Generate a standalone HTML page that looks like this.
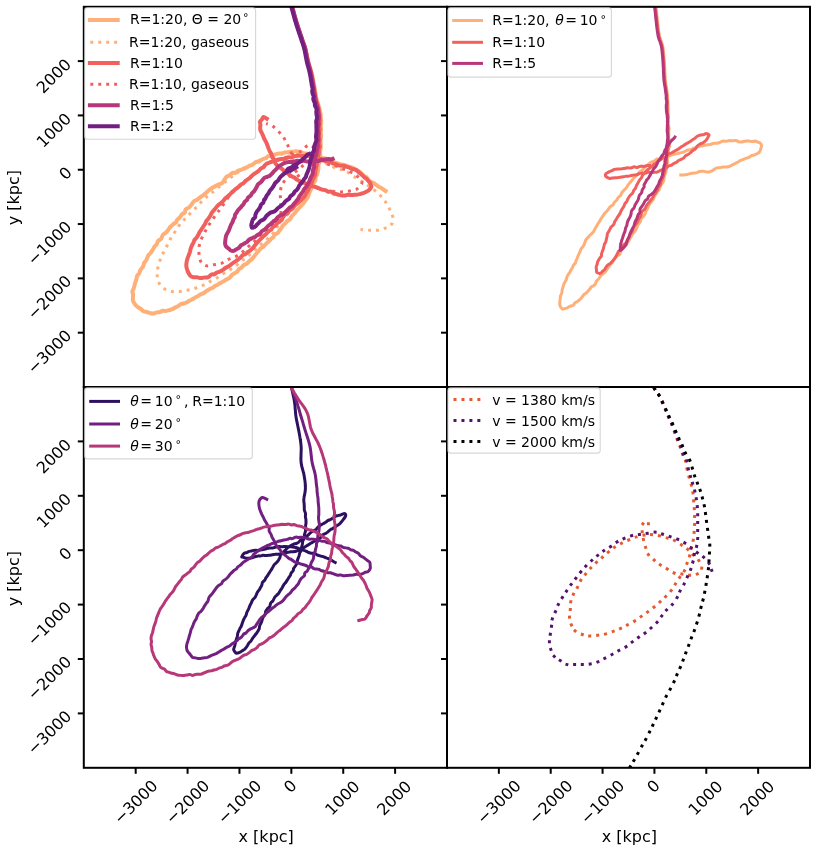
<!DOCTYPE html>
<html><head><meta charset="utf-8"><title>orbits</title>
<style>
html,body{margin:0;padding:0;background:#fff;}
svg{display:block;}
text{font-family:"DejaVu Sans","Liberation Sans",sans-serif;font-size:14px;fill:#000;}
.t{font-size:16px;}
.sp{fill:none;stroke:#000;stroke-width:2;stroke-linecap:square;}
.tk{stroke:#000;stroke-width:2;fill:none;}
.c{fill:none;stroke-linejoin:round;}
.lg{fill:#fff;fill-opacity:0.8;stroke:#ccc;stroke-opacity:0.8;stroke-width:1.1;}
</style></head><body>
<svg width="817" height="852" viewBox="0 0 817 852">
<rect width="817" height="852" fill="#fff"/>
<defs><clipPath id="cp0"><rect x="83.8" y="6.8" width="363.2" height="380.2"/></clipPath><clipPath id="cp1"><rect x="447.0" y="6.8" width="363.0" height="380.2"/></clipPath><clipPath id="cp2"><rect x="83.8" y="387.0" width="363.2" height="380.79999999999995"/></clipPath><clipPath id="cp3"><rect x="447.0" y="387.0" width="363.0" height="380.79999999999995"/></clipPath></defs>
<path class="c" clip-path="url(#cp0)" d="M290.4,0.0 C290.5,0.3 290.7,1.2 290.9,2.0 C291.1,2.8 291.4,3.9 291.6,4.9 C291.9,5.9 292.2,7.1 292.4,8.0 C292.7,8.9 292.9,9.6 293.1,10.4 C293.3,11.3 293.6,12.2 293.8,13.1 C294.0,14.0 294.3,14.9 294.5,15.8 C294.8,16.7 295.0,17.4 295.3,18.4 C295.6,19.4 295.9,20.6 296.3,21.7 C296.6,22.7 296.9,23.8 297.3,24.9 C297.6,26.0 298.0,27.2 298.3,28.2 C298.7,29.2 298.9,30.0 299.2,30.9 C299.5,31.8 299.9,32.8 300.2,33.7 C300.5,34.6 300.9,35.6 301.2,36.5 C301.5,37.4 301.7,38.2 302.1,39.2 C302.4,40.2 302.9,41.4 303.3,42.5 C303.7,43.5 304.0,44.5 304.4,45.6 C304.8,46.7 305.2,48.0 305.5,49.0 C305.8,50.0 306.0,50.9 306.2,51.9 C306.4,52.9 306.6,53.9 306.9,55.0 C307.1,56.0 307.3,57.1 307.5,58.1 C307.8,59.1 308.0,60.2 308.2,61.2 C308.5,62.2 308.8,63.2 309.1,64.2 C309.4,65.3 309.7,66.3 310.0,67.3 C310.3,68.3 310.6,69.3 310.9,70.3 C311.2,71.4 311.5,72.4 311.7,73.4 C312.0,74.4 312.2,75.4 312.4,76.4 C312.6,77.5 312.8,78.5 313.0,79.5 C313.2,80.5 313.4,81.5 313.6,82.5 C313.8,83.6 314.0,84.7 314.2,85.7 C314.4,86.7 314.5,87.5 314.7,88.4 C314.8,89.3 315.0,90.2 315.1,91.2 C315.3,92.1 315.5,93.1 315.6,94.0 C315.8,94.9 315.9,95.8 316.1,96.7 C316.3,97.5 316.3,98.1 316.6,99.1 C316.8,100.1 317.3,101.5 317.6,102.5 C317.9,103.5 318.1,104.3 318.4,105.3 C318.7,106.2 319.2,107.3 319.4,108.3 C319.7,109.4 319.7,110.5 319.9,111.6 C320.1,112.6 320.5,113.6 320.6,114.6 C320.8,115.7 320.7,117.0 320.8,118.1 C321.0,119.1 321.2,119.9 321.2,120.8 C321.3,121.7 321.2,122.5 321.1,123.5 C321.0,124.5 320.7,125.6 320.7,126.7 C320.7,127.8 321.3,129.2 321.2,130.1 C321.2,131.1 320.4,131.5 320.4,132.3 C320.4,133.0 321.1,133.6 321.2,134.7 C321.2,135.7 320.9,137.3 320.8,138.4 C320.7,139.6 320.4,140.7 320.4,141.6 C320.4,142.6 320.8,143.2 320.8,144.1 C320.9,145.0 320.7,146.2 320.6,147.2 C320.6,148.2 320.5,149.0 320.4,149.9 C320.3,150.9 320.0,151.8 320.0,152.8 C320.0,153.8 320.4,154.9 320.3,155.9 C320.2,157.0 319.5,158.2 319.4,159.1 C319.4,160.0 320.0,160.6 319.8,161.4 C319.7,162.3 318.8,163.2 318.6,164.3 C318.3,165.3 318.4,166.5 318.4,167.5 C318.3,168.6 318.3,169.5 318.1,170.5 C318.0,171.5 317.7,172.4 317.3,173.6 C316.9,174.7 316.1,176.1 315.8,177.2 C315.4,178.3 315.6,179.3 315.3,180.3 C314.9,181.2 314.3,182.0 313.8,183.0 C313.3,184.0 312.9,185.1 312.5,186.1 C312.0,187.0 311.5,187.9 311.0,188.9 C310.6,189.9 310.3,190.9 309.8,191.9 C309.4,193.0 308.8,194.3 308.4,195.4 C308.0,196.4 307.8,197.4 307.3,198.3 C306.8,199.1 306.1,199.4 305.4,200.4 C304.7,201.3 303.7,203.1 303.0,204.0 C302.3,204.8 301.9,205.1 301.4,205.5 C300.9,206.0 300.9,206.0 300.2,206.8 C299.4,207.5 297.9,209.1 297.1,210.0 C296.3,210.9 296.1,211.6 295.4,212.4 C294.7,213.3 293.7,214.2 293.1,214.9 C292.4,215.6 291.9,216.0 291.4,216.7 C290.9,217.4 290.8,218.4 290.1,219.1 C289.5,219.8 288.1,220.4 287.3,221.1 C286.5,221.8 286.2,222.6 285.4,223.3 C284.7,224.1 283.2,224.9 282.6,225.6 C282.0,226.2 282.3,226.7 281.8,227.5 C281.3,228.3 280.2,229.5 279.5,230.4 C278.8,231.3 278.5,232.2 277.7,232.9 C276.9,233.6 275.6,234.0 274.8,234.7 C274.1,235.4 273.7,236.6 273.2,237.3 C272.6,237.9 272.2,237.7 271.5,238.4 C270.8,239.0 269.9,240.3 269.0,241.1 C268.2,242.0 267.2,242.5 266.4,243.4 C265.5,244.3 264.5,245.6 263.7,246.4 C262.8,247.2 261.9,247.5 261.2,248.2 C260.4,248.8 260.0,249.4 259.2,250.2 C258.5,251.1 257.4,252.3 256.7,253.1 C256.1,253.9 255.7,254.2 255.2,254.9 C254.8,255.5 254.6,256.1 253.8,257.0 C253.0,257.8 251.6,259.1 250.7,259.9 C249.8,260.8 249.2,261.3 248.5,262.0 C247.8,262.6 247.2,263.3 246.4,263.9 C245.5,264.4 244.2,264.7 243.4,265.3 C242.7,265.9 242.4,266.8 241.6,267.5 C240.8,268.2 239.5,268.6 238.7,269.4 C237.9,270.1 237.7,271.3 237.0,271.9 C236.4,272.6 235.8,272.6 234.9,273.1 C234.1,273.6 232.7,274.3 231.8,275.1 C230.9,275.9 230.4,277.0 229.5,277.8 C228.7,278.5 227.4,279.0 226.7,279.4 C225.9,279.8 225.7,279.9 224.9,280.4 C224.0,280.9 222.5,281.9 221.6,282.4 C220.7,282.9 220.4,282.9 219.7,283.3 C219.0,283.7 218.1,284.5 217.3,285.0 C216.5,285.4 215.9,285.4 215.1,285.9 C214.3,286.3 213.4,287.4 212.6,287.9 C211.8,288.3 211.3,288.2 210.4,288.6 C209.6,289.1 208.1,290.0 207.3,290.6 C206.4,291.1 205.9,291.4 205.3,291.8 C204.7,292.3 204.4,292.8 203.5,293.2 C202.6,293.7 201.1,294.1 200.1,294.6 C199.2,295.1 198.5,295.8 197.8,296.2 C197.2,296.7 196.8,296.6 196.0,297.0 C195.3,297.4 194.3,298.2 193.5,298.7 C192.6,299.1 191.8,299.6 191.0,300.0 C190.2,300.4 189.3,300.7 188.5,301.1 C187.8,301.6 187.4,302.1 186.5,302.5 C185.7,302.9 184.4,303.3 183.4,303.5 C182.5,303.8 181.5,303.7 180.6,304.2 C179.8,304.6 178.9,305.6 178.1,306.1 C177.3,306.6 176.6,306.8 175.9,307.1 C175.1,307.5 174.5,308.0 173.7,308.4 C172.9,308.8 172.0,309.2 171.2,309.5 C170.4,309.8 169.9,310.0 169.0,310.2 C168.1,310.5 166.8,310.9 165.8,311.0 C164.7,311.1 163.7,310.6 162.7,310.8 C161.7,311.0 160.8,311.9 159.8,312.2 C158.7,312.5 157.4,312.2 156.6,312.4 C155.7,312.6 155.6,313.1 154.6,313.2 C153.6,313.4 151.7,313.4 150.5,313.2 C149.2,313.0 148.1,312.4 146.9,312.0 C145.8,311.7 144.3,311.5 143.3,311.1 C142.3,310.6 141.9,309.8 141.1,309.2 C140.2,308.6 139.2,308.0 138.3,307.4 C137.5,306.8 136.6,306.2 136.0,305.5 C135.3,304.8 134.8,304.1 134.3,303.3 C133.8,302.5 133.2,301.7 133.0,300.6 C132.7,299.6 132.9,298.0 132.9,297.0 C133.0,296.0 133.2,295.5 133.1,294.6 C133.0,293.7 132.3,292.6 132.3,291.6 C132.4,290.7 133.2,289.8 133.5,288.9 C133.9,288.0 134.1,287.3 134.3,286.3 C134.6,285.3 134.8,284.1 135.1,283.0 C135.4,281.9 135.9,280.9 136.3,279.7 C136.6,278.5 136.8,276.7 137.2,275.7 C137.7,274.7 138.4,274.6 138.9,273.8 C139.4,272.9 139.6,271.6 140.2,270.5 C140.8,269.4 142.1,267.9 142.6,267.2 C143.1,266.4 143.1,266.7 143.3,266.0 C143.6,265.3 143.6,264.0 144.1,263.0 C144.6,262.0 145.7,261.1 146.2,260.3 C146.7,259.4 146.7,259.0 147.1,258.2 C147.5,257.3 147.9,256.0 148.5,255.0 C149.2,254.1 150.2,253.6 150.9,252.6 C151.7,251.7 152.4,250.3 153.0,249.3 C153.6,248.4 153.8,247.6 154.4,246.7 C155.1,245.8 156.2,245.0 156.8,244.0 C157.4,243.0 157.4,241.8 158.2,240.9 C158.9,240.0 160.5,239.7 161.2,238.7 C161.9,237.8 162.1,235.9 162.7,235.1 C163.3,234.2 164.0,234.2 164.8,233.5 C165.6,232.8 166.6,231.9 167.3,231.1 C168.0,230.3 168.4,229.5 169.0,228.8 C169.5,228.0 169.9,227.4 170.6,226.6 C171.4,225.8 172.7,224.5 173.6,223.8 C174.5,223.1 175.5,223.1 176.0,222.4 C176.6,221.8 176.4,220.6 177.1,219.8 C177.7,219.0 179.1,218.3 179.9,217.4 C180.8,216.4 181.3,215.0 182.1,214.2 C182.9,213.4 184.0,213.4 184.7,212.6 C185.3,211.8 185.0,210.3 185.7,209.4 C186.5,208.5 188.0,208.2 188.9,207.5 C189.8,206.7 190.7,205.7 191.3,204.9 C192.0,204.2 192.1,203.6 192.6,203.0 C193.1,202.3 193.6,201.5 194.4,200.9 C195.2,200.4 196.4,200.2 197.3,199.6 C198.1,199.1 198.6,198.3 199.3,197.8 C200.1,197.2 201.1,196.8 201.9,196.2 C202.8,195.6 203.5,195.0 204.2,194.4 C204.9,193.8 205.5,193.4 206.2,192.7 C206.9,192.0 207.9,191.0 208.6,190.4 C209.3,189.8 209.9,189.4 210.6,188.9 C211.3,188.5 211.9,188.1 212.8,187.5 C213.7,187.0 214.9,186.4 215.9,185.9 C216.9,185.3 217.8,184.7 218.8,184.3 C219.7,183.9 220.7,184.1 221.5,183.5 C222.3,183.0 222.9,181.9 223.6,181.0 C224.2,180.2 224.8,179.2 225.3,178.4 C225.9,177.7 226.2,177.0 226.9,176.5 C227.6,176.0 228.7,175.9 229.6,175.3 C230.5,174.7 231.4,173.3 232.4,172.9 C233.3,172.5 234.3,173.2 235.3,172.8 C236.3,172.4 237.4,171.1 238.4,170.6 C239.3,170.1 240.1,170.2 241.0,169.8 C242.0,169.4 243.2,168.8 244.2,168.3 C245.2,167.9 246.4,167.5 247.3,167.1 C248.2,166.6 248.6,166.1 249.6,165.7 C250.5,165.2 251.9,164.9 252.9,164.4 C253.9,163.8 254.8,162.8 255.6,162.3 C256.5,161.8 257.3,161.8 258.1,161.5 C258.9,161.1 259.6,160.8 260.5,160.3 C261.4,159.9 262.7,159.2 263.5,158.8 C264.4,158.5 264.8,158.5 265.6,158.1 C266.4,157.7 267.4,156.6 268.3,156.2 C269.1,155.9 269.8,156.3 270.7,156.1 C271.6,155.8 272.8,155.1 273.8,154.8 C274.8,154.4 275.7,154.2 276.6,154.0 C277.4,153.8 277.7,153.6 278.6,153.5 C279.6,153.4 280.9,153.4 282.0,153.3 C283.0,153.1 284.0,152.7 284.9,152.5 C285.9,152.3 286.8,152.4 287.7,152.3 C288.6,152.2 289.5,151.9 290.3,151.8 C291.2,151.7 292.1,151.8 292.9,151.8 C293.7,151.7 294.3,151.4 295.2,151.3 C296.1,151.2 297.4,151.3 298.3,151.4 C299.2,151.4 299.8,151.5 300.6,151.8 C301.4,152.1 302.1,152.9 303.1,153.2 C304.0,153.5 305.3,153.5 306.3,153.6 C307.3,153.7 307.9,153.6 309.0,153.9 C310.0,154.1 311.5,154.9 312.5,155.2 C313.6,155.4 314.2,155.3 315.1,155.4 C315.9,155.5 316.4,155.4 317.4,155.8 C318.5,156.2 320.3,157.3 321.2,157.7 C322.1,158.1 321.9,158.0 322.8,158.2 C323.6,158.3 325.3,158.3 326.2,158.6 C327.1,158.9 327.5,159.5 328.4,159.8 C329.3,160.2 330.6,160.4 331.6,160.8 C332.6,161.2 333.6,161.9 334.5,162.3 C335.4,162.7 336.0,162.8 337.1,163.2 C338.2,163.6 340.0,164.2 341.0,164.5 C342.0,164.8 342.3,164.6 343.2,164.8 C344.1,165.0 345.3,165.3 346.4,165.7 C347.4,166.0 348.4,166.7 349.5,167.0 C350.5,167.3 351.7,167.2 352.6,167.6 C353.5,168.0 354.0,168.8 354.9,169.3 C355.7,169.7 356.8,169.9 357.6,170.4 C358.5,170.9 359.3,171.4 360.1,172.0 C360.9,172.7 361.6,173.6 362.2,174.2 C362.9,174.9 363.3,175.3 364.0,175.8 C364.7,176.3 365.5,176.4 366.3,177.1 C367.0,177.7 367.7,179.0 368.5,179.8 C369.2,180.6 369.9,181.1 370.7,181.7 C371.6,182.2 372.8,182.4 373.7,182.9 C374.6,183.4 375.2,184.2 376.0,184.8 C376.8,185.5 377.8,186.2 378.6,186.7 C379.5,187.2 380.3,187.4 381.1,187.9 C382.0,188.5 383.0,189.3 383.7,189.8 C384.5,190.3 385.3,190.8 385.6,191.0" stroke="#feb078" stroke-width="4" stroke-linecap="square"/>
<path class="c" clip-path="url(#cp0)" d="M290.4,0.0 C290.7,1.3 291.6,4.9 292.4,8.0 C293.3,11.1 294.3,15.0 295.3,18.4 C296.3,21.8 297.2,24.7 298.3,28.2 C299.5,31.7 300.9,35.7 302.1,39.2 C303.3,42.7 304.4,45.3 305.5,49.0 C306.5,52.7 307.2,57.1 308.2,61.2 C309.3,65.3 310.7,69.3 311.7,73.4 C312.7,77.5 313.4,81.4 314.2,85.7 C315.0,90.0 315.7,95.3 316.6,99.1 C317.5,102.9 318.7,105.2 319.4,108.4 C320.1,111.6 320.5,114.4 320.8,118.0 C321.1,121.6 321.1,124.7 321.0,130.0 C320.9,135.3 320.5,143.9 320.0,149.6 C319.5,155.3 319.0,159.7 318.0,164.3 C317.0,168.9 315.7,172.9 314.0,177.0 C312.3,181.1 310.2,185.0 308.0,188.8 C305.8,192.6 304.0,196.1 301.0,200.0 C298.0,203.9 293.5,208.2 290.0,212.0 C286.5,215.8 283.1,219.1 280.0,223.0 C276.9,226.9 274.9,231.5 271.2,235.5 C267.5,239.5 262.0,243.4 258.0,247.0 C254.0,250.6 250.1,254.5 247.3,256.9 C244.5,259.3 243.2,259.6 241.2,261.2 C239.2,262.8 237.2,264.9 235.1,266.5 C233.0,268.1 230.7,269.3 228.4,270.7 C226.2,272.1 223.8,273.3 221.6,274.7 C219.4,276.1 217.8,277.5 215.5,278.8 C213.2,280.1 210.4,281.2 208.1,282.4 C205.8,283.6 203.7,285.1 201.4,286.1 C199.1,287.1 196.6,287.8 194.1,288.5 C191.6,289.2 189.1,289.9 186.7,290.4 C184.2,290.9 181.8,291.4 179.4,291.6 C177.0,291.8 174.4,292.0 172.0,291.6 C169.6,291.2 167.0,290.4 165.0,289.2 C163.0,288.0 161.0,286.1 159.8,284.3 C158.6,282.5 158.1,280.6 157.7,278.5 C157.2,276.4 156.9,274.4 157.1,272.0 C157.3,269.6 158.2,266.7 158.9,264.1 C159.6,261.6 160.4,259.1 161.4,256.7 C162.4,254.3 163.8,252.0 165.0,249.7 C166.2,247.3 167.5,244.9 168.7,242.6 C169.9,240.3 170.6,238.1 172.0,235.9 C173.4,233.7 175.4,231.4 176.9,229.2 C178.4,226.9 179.6,224.3 181.2,222.4 C182.8,220.5 184.7,219.3 186.5,217.5 C188.3,215.7 190.1,213.3 192.0,211.4 C193.9,209.5 196.1,207.8 197.9,205.9 C199.7,204.0 201.1,201.9 203.0,200.1 C204.9,198.3 207.1,196.6 209.2,194.9 C211.2,193.2 212.0,192.7 215.3,190.0 C218.6,187.3 224.9,182.0 228.8,179.0 C232.7,176.0 235.0,174.1 238.5,172.0 C242.0,169.9 245.9,168.3 249.6,166.5 C253.3,164.7 257.2,162.6 260.6,161.0 C264.0,159.4 266.0,158.2 270.0,157.0 C274.0,155.8 280.4,154.2 284.7,153.5 C288.9,152.8 292.4,152.4 295.5,152.5 C298.6,152.6 300.6,153.4 303.3,154.0 C306.1,154.6 309.1,155.2 312.0,156.0 C314.9,156.8 318.4,157.1 321.0,158.5 C323.6,159.9 324.8,162.8 327.7,164.5 C330.6,166.2 335.3,167.8 338.2,168.8 C341.1,169.8 342.7,169.6 344.9,170.6 C347.1,171.6 349.4,173.5 351.6,174.9 C353.8,176.3 356.2,177.9 358.3,179.2 C360.4,180.5 362.6,181.5 364.5,182.8 C366.4,184.1 368.0,185.5 370.0,187.0 C372.0,188.5 374.7,190.2 376.7,192.0 C378.7,193.8 380.5,195.5 382.2,197.5 C383.9,199.5 385.5,201.7 386.9,203.9 C388.3,206.2 389.5,208.6 390.5,211.0 C391.5,213.4 392.9,216.1 393.0,218.3 C393.1,220.6 392.7,222.9 391.4,224.5 C390.1,226.1 387.6,227.2 385.3,228.1 C383.0,229.0 379.9,229.8 377.3,230.2 C374.7,230.5 372.4,230.3 369.6,230.2 C366.8,230.1 362.0,229.6 360.5,229.5" stroke="#feb078" stroke-width="3" stroke-linecap="butt" stroke-dasharray="3 4.95" stroke-dashoffset="-4"/>
<path class="c" clip-path="url(#cp0)" d="M290.4,0.0 C290.5,0.3 290.7,1.2 290.9,2.0 C291.1,2.8 291.4,3.9 291.6,4.9 C291.9,5.9 292.2,7.1 292.4,8.0 C292.7,8.9 292.8,9.6 293.1,10.4 C293.3,11.3 293.5,12.2 293.8,13.1 C294.0,14.0 294.3,14.9 294.5,15.8 C294.8,16.7 295.0,17.4 295.2,18.4 C295.5,19.4 295.9,20.6 296.2,21.7 C296.5,22.7 296.9,23.8 297.2,24.9 C297.5,26.0 297.9,27.2 298.3,28.2 C298.6,29.2 298.9,30.0 299.2,30.9 C299.5,31.8 299.8,32.8 300.1,33.7 C300.4,34.6 300.8,35.6 301.1,36.5 C301.4,37.4 301.7,38.2 302.0,39.2 C302.3,40.2 302.8,41.4 303.1,42.5 C303.5,43.5 303.9,44.5 304.3,45.6 C304.6,46.7 305.0,48.0 305.3,49.0 C305.6,50.0 305.8,50.9 306.0,51.9 C306.2,52.9 306.4,53.9 306.6,55.0 C306.8,56.0 307.0,57.1 307.2,58.1 C307.5,59.1 307.7,60.2 307.9,61.2 C308.2,62.2 308.5,63.2 308.7,64.2 C309.0,65.3 309.3,66.3 309.6,67.3 C309.9,68.3 310.2,69.3 310.5,70.3 C310.8,71.4 311.0,72.4 311.3,73.4 C311.5,74.4 311.7,75.4 311.9,76.4 C312.1,77.5 312.3,78.5 312.5,79.5 C312.7,80.5 312.9,81.5 313.1,82.5 C313.3,83.6 313.5,84.7 313.6,85.7 C313.8,86.7 313.9,87.5 314.1,88.4 C314.2,89.3 314.4,90.2 314.5,91.2 C314.7,92.1 314.8,93.1 315.0,94.0 C315.1,94.9 315.3,95.8 315.4,96.7 C315.6,97.5 315.7,98.1 315.9,99.1 C316.1,100.0 316.4,101.4 316.7,102.4 C317.0,103.5 317.5,104.4 317.8,105.4 C318.1,106.4 318.2,107.4 318.4,108.4 C318.7,109.4 318.8,110.4 319.0,111.4 C319.1,112.4 319.3,113.3 319.4,114.4 C319.5,115.5 319.5,117.0 319.6,118.0 C319.7,119.1 319.8,119.7 319.8,120.6 C319.8,121.5 319.5,122.4 319.5,123.4 C319.4,124.4 319.4,125.7 319.5,126.8 C319.5,127.9 319.7,129.1 319.7,130.0 C319.7,130.9 319.4,131.4 319.3,132.3 C319.2,133.1 319.1,134.1 319.2,135.1 C319.2,136.1 319.4,137.2 319.5,138.3 C319.5,139.4 319.6,140.8 319.5,141.8 C319.4,142.8 319.0,143.4 319.1,144.1 C319.1,144.9 320.0,145.5 320.0,146.4 C320.0,147.3 319.0,148.6 318.8,149.7 C318.6,150.7 318.9,151.9 318.8,153.0 C318.7,154.1 318.4,155.0 318.3,156.0 C318.1,157.0 318.2,158.2 318.0,159.0 C317.7,159.9 317.1,160.5 316.9,161.3 C316.8,162.1 317.1,162.9 317.0,164.0 C316.9,165.1 316.3,166.7 316.1,167.8 C315.8,169.0 315.7,170.0 315.5,171.1 C315.4,172.1 315.4,173.1 315.2,174.1 C315.0,175.1 314.7,176.0 314.3,177.0 C313.8,177.9 313.0,178.9 312.6,179.8 C312.3,180.7 312.4,181.4 312.0,182.4 C311.7,183.3 311.1,184.4 310.6,185.4 C310.1,186.3 309.3,187.2 308.9,188.0 C308.5,188.8 308.7,189.5 308.2,190.4 C307.7,191.3 306.6,192.3 306.1,193.3 C305.5,194.2 305.3,195.3 304.7,196.1 C304.1,197.0 303.3,197.6 302.6,198.4 C301.8,199.2 301.1,200.1 300.2,200.9 C299.3,201.7 298.1,202.8 297.4,203.4 C296.7,204.1 296.5,203.9 295.8,204.6 C295.2,205.2 294.2,206.5 293.4,207.3 C292.7,208.0 292.2,208.6 291.5,209.3 C290.7,209.9 289.6,210.4 289.0,211.0 C288.4,211.5 288.6,212.2 288.0,212.8 C287.3,213.4 286.0,213.8 285.2,214.6 C284.4,215.3 283.6,216.4 283.0,217.2 C282.5,218.0 282.6,218.4 282.0,219.1 C281.4,219.9 280.4,221.1 279.6,221.7 C278.8,222.4 278.0,222.4 277.3,223.0 C276.6,223.6 276.2,224.8 275.5,225.5 C274.8,226.1 273.7,226.4 273.0,227.0 C272.3,227.7 272.1,228.7 271.3,229.5 C270.5,230.2 269.2,230.9 268.3,231.6 C267.4,232.4 266.8,233.3 266.0,234.1 C265.2,234.8 264.4,235.4 263.6,236.1 C262.8,236.9 261.8,237.9 261.1,238.6 C260.4,239.3 260.1,239.6 259.4,240.3 C258.7,241.0 257.7,241.9 256.9,242.8 C256.1,243.7 255.2,244.9 254.6,245.8 C253.9,246.6 253.7,247.1 253.0,247.8 C252.3,248.6 251.3,249.5 250.4,250.3 C249.5,251.0 248.4,251.6 247.6,252.2 C246.8,252.8 246.2,253.6 245.4,254.1 C244.6,254.6 243.5,254.6 242.7,255.1 C241.9,255.7 241.4,256.8 240.6,257.6 C239.8,258.3 238.8,259.1 238.0,259.6 C237.2,260.2 236.4,260.6 235.7,261.1 C234.9,261.6 234.3,262.0 233.5,262.7 C232.6,263.3 231.5,264.3 230.6,264.9 C229.7,265.5 229.2,266.0 228.3,266.5 C227.4,267.0 226.3,267.4 225.3,268.0 C224.3,268.6 223.4,269.5 222.5,270.1 C221.5,270.8 220.6,271.3 219.6,271.7 C218.6,272.1 217.6,272.2 216.7,272.6 C215.8,273.0 215.2,273.9 214.4,274.3 C213.5,274.6 212.2,274.1 211.4,274.5 C210.6,274.8 210.2,275.7 209.5,276.3 C208.8,276.8 207.9,277.3 207.1,277.5 C206.3,277.7 205.4,277.3 204.6,277.4 C203.7,277.5 203.0,277.9 202.2,278.0 C201.4,278.1 200.7,278.0 199.8,277.9 C198.9,277.8 197.7,277.4 196.7,277.3 C195.6,277.2 194.5,277.4 193.5,277.3 C192.5,277.1 191.5,276.9 190.6,276.1 C189.7,275.3 188.9,273.7 188.3,272.5 C187.6,271.2 187.2,269.9 186.9,268.7 C186.5,267.6 186.3,266.9 186.3,265.7 C186.2,264.5 186.5,262.8 186.7,261.6 C186.9,260.5 187.1,259.9 187.4,258.8 C187.8,257.7 188.3,256.3 188.8,255.1 C189.2,253.9 189.7,252.8 190.0,251.8 C190.3,250.7 190.2,250.0 190.6,248.9 C190.9,247.7 191.7,245.9 192.2,244.8 C192.8,243.7 193.4,242.9 193.7,242.1 C194.1,241.3 194.0,240.7 194.5,239.9 C195.0,239.1 196.0,238.3 196.7,237.4 C197.3,236.5 197.9,235.5 198.4,234.7 C198.8,233.8 199.0,233.1 199.6,232.2 C200.1,231.2 201.1,229.8 201.8,228.8 C202.5,227.8 203.0,227.0 203.6,226.1 C204.2,225.3 204.7,224.5 205.2,223.6 C205.7,222.7 206.0,221.6 206.4,220.8 C206.8,220.1 207.3,219.9 207.9,219.2 C208.4,218.5 209.3,217.4 209.7,216.7 C210.2,216.0 210.3,215.6 210.7,214.9 C211.1,214.1 211.6,213.0 212.2,212.2 C212.8,211.3 213.8,210.4 214.5,209.6 C215.2,208.8 215.7,207.9 216.3,207.2 C216.9,206.5 217.4,205.9 218.0,205.3 C218.7,204.7 219.4,204.3 220.3,203.6 C221.1,202.8 222.6,201.5 223.3,200.8 C224.0,200.1 224.0,199.8 224.5,199.2 C225.0,198.7 225.8,198.0 226.6,197.3 C227.4,196.6 228.5,195.8 229.3,195.0 C230.2,194.2 230.9,193.3 231.6,192.6 C232.3,191.9 233.1,191.4 233.8,190.7 C234.5,190.1 235.2,189.4 235.9,188.8 C236.7,188.2 237.6,187.7 238.5,187.0 C239.3,186.3 240.2,185.2 241.0,184.6 C241.9,183.9 242.8,183.7 243.6,183.1 C244.4,182.4 245.0,181.4 245.9,180.7 C246.7,179.9 247.9,179.2 248.7,178.7 C249.4,178.1 249.5,178.1 250.4,177.4 C251.2,176.6 253.0,174.9 253.9,174.1 C254.8,173.4 254.9,173.4 255.7,172.9 C256.5,172.4 257.7,171.7 258.6,171.0 C259.4,170.3 259.9,169.2 260.7,168.6 C261.4,168.1 262.3,168.2 263.0,167.6 C263.8,167.0 264.4,165.9 265.1,165.1 C265.9,164.4 266.8,163.8 267.6,163.3 C268.4,162.8 269.0,162.7 269.9,162.4 C270.8,162.0 272.0,161.5 273.0,161.1 C274.0,160.8 274.7,160.6 275.8,160.2 C276.9,159.9 278.7,159.4 279.8,159.2 C280.9,159.0 281.5,159.1 282.5,159.0 C283.5,158.9 284.9,158.9 285.9,158.6 C286.9,158.3 287.6,157.5 288.5,157.3 C289.4,157.1 290.1,157.6 291.1,157.4 C292.0,157.3 293.0,156.7 294.3,156.4 C295.5,156.1 297.2,155.7 298.5,155.6 C299.7,155.6 300.8,155.9 301.7,156.0 C302.6,156.0 302.9,156.2 303.8,156.1 C304.6,156.0 306.0,155.4 307.0,155.4 C307.9,155.5 308.6,156.2 309.4,156.5 C310.2,156.7 310.9,156.9 311.8,157.1 C312.8,157.3 314.1,157.4 315.1,157.7 C316.2,157.9 317.2,158.2 318.2,158.5 C319.2,158.7 320.1,158.7 321.1,159.2 C322.2,159.6 323.3,160.6 324.4,160.9 C325.5,161.3 326.9,161.2 327.9,161.3 C328.9,161.5 329.4,161.7 330.4,162.1 C331.3,162.5 332.7,163.3 333.9,163.7 C335.0,164.1 336.0,164.3 337.0,164.7 C338.0,165.0 338.8,165.4 339.8,165.6 C340.9,165.8 341.9,165.6 343.1,165.8 C344.3,166.0 345.9,166.6 347.0,166.9 C348.0,167.2 348.5,167.3 349.4,167.6 C350.3,168.0 351.4,168.7 352.3,169.0 C353.3,169.4 354.5,169.3 355.4,169.6 C356.3,170.0 357.1,170.7 357.8,171.3 C358.6,171.9 359.2,172.6 359.9,173.2 C360.6,173.8 361.3,174.2 362.0,174.9 C362.7,175.5 363.4,176.5 364.1,177.1 C364.9,177.7 365.6,178.1 366.4,178.7 C367.1,179.4 367.9,180.4 368.5,181.1 C369.2,181.8 369.9,182.4 370.3,183.1 C370.7,183.9 370.9,184.9 371.0,185.5 C371.2,186.2 371.6,186.3 371.2,187.1 C370.8,187.9 369.5,189.6 368.7,190.4 C367.8,191.1 367.1,191.2 366.2,191.7 C365.3,192.2 364.3,192.8 363.2,193.2 C362.2,193.6 360.7,193.8 359.7,194.1 C358.6,194.3 357.7,194.6 356.8,194.7 C355.9,194.8 355.0,194.8 354.2,194.8 C353.4,194.9 353.0,195.1 352.0,195.1 C350.9,195.1 348.9,194.7 347.8,194.8 C346.7,194.9 346.3,195.4 345.3,195.5 C344.2,195.6 342.6,195.5 341.6,195.4 C340.5,195.2 340.1,195.1 339.1,194.9 C338.1,194.6 336.5,194.2 335.6,193.9 C334.7,193.7 334.3,193.8 333.6,193.4 C332.8,193.0 331.9,192.0 331.0,191.7 C330.0,191.4 328.8,191.9 328.0,191.7 C327.1,191.4 326.8,190.6 325.8,190.3 C324.8,189.9 323.1,189.9 322.1,189.6 C321.1,189.3 320.5,188.9 319.7,188.6 C318.9,188.2 318.0,187.9 317.0,187.5 C316.1,187.2 315.0,187.0 314.0,186.7 C313.0,186.3 312.2,185.9 311.1,185.6 C310.1,185.3 308.7,185.4 307.7,185.0 C306.7,184.6 306.2,183.7 305.3,183.3 C304.4,182.9 303.3,182.9 302.3,182.5 C301.2,182.1 300.0,181.3 299.1,180.9 C298.2,180.4 297.8,180.3 297.0,179.7 C296.2,179.1 295.0,178.0 294.3,177.5 C293.5,177.0 293.2,177.2 292.4,176.7 C291.6,176.3 290.5,175.5 289.6,174.9 C288.7,174.3 288.0,173.7 287.1,173.0 C286.2,172.3 285.0,171.5 284.1,170.8 C283.2,170.1 282.5,169.3 281.7,168.8 C280.9,168.2 280.3,168.0 279.5,167.4 C278.6,166.8 277.5,165.8 276.8,165.0 C276.1,164.3 275.5,163.6 275.1,162.8 C274.7,162.0 274.8,161.1 274.3,160.1 C273.8,159.1 272.7,157.9 272.2,156.8 C271.7,155.7 271.6,154.5 271.2,153.6 C270.8,152.6 270.1,152.0 269.7,151.1 C269.2,150.2 268.7,149.0 268.4,148.0 C268.0,147.0 267.8,146.2 267.4,145.2 C267.0,144.3 266.6,143.2 266.1,142.2 C265.6,141.2 265.0,140.1 264.5,139.2 C264.1,138.3 263.7,137.5 263.4,136.6 C263.0,135.7 262.7,134.6 262.3,133.9 C262.0,133.1 261.7,133.0 261.4,132.3 C261.1,131.6 260.5,130.5 260.3,129.7 C260.1,128.9 260.1,128.3 260.2,127.4 C260.2,126.4 260.5,125.0 260.4,124.1 C260.4,123.2 259.7,122.7 259.9,122.0 C260.2,121.2 261.2,120.4 261.8,119.6 C262.4,118.8 262.7,117.2 263.5,117.0 C264.4,116.9 266.3,118.5 266.8,118.8" stroke="#f1605d" stroke-width="4" stroke-linecap="square"/>
<path class="c" clip-path="url(#cp0)" d="M290.4,0.0 C290.7,1.3 291.6,4.9 292.4,8.0 C293.2,11.1 294.3,15.0 295.2,18.4 C296.2,21.8 297.1,24.7 298.3,28.2 C299.4,31.7 300.8,35.7 302.0,39.2 C303.2,42.7 304.3,45.3 305.3,49.0 C306.3,52.7 306.9,57.1 307.9,61.2 C308.9,65.3 310.3,69.3 311.3,73.4 C312.2,77.5 312.9,81.4 313.6,85.7 C314.4,90.0 315.1,95.3 315.9,99.1 C316.7,102.9 317.8,105.2 318.5,108.4 C319.1,111.6 319.4,114.4 319.6,118.0 C319.8,121.6 319.7,125.5 319.5,130.0 C319.3,134.5 319.2,141.0 318.5,145.0 C317.8,149.0 316.4,151.4 315.0,154.0 C313.6,156.6 311.8,158.7 310.0,160.5 C308.2,162.3 306.2,163.1 304.3,164.6 C302.4,166.1 300.5,167.8 298.4,169.4 C296.3,171.1 293.9,172.8 291.8,174.5 C289.7,176.2 287.3,177.7 285.6,179.6 C283.9,181.5 282.4,183.6 281.5,185.9 C280.6,188.2 280.5,191.1 280.4,193.6 C280.2,196.1 280.5,198.4 280.6,201.0 C280.7,203.6 281.0,206.5 281.0,209.2 C281.0,211.9 281.1,215.0 280.5,217.0 C279.9,219.0 278.7,219.8 277.3,221.4 C275.9,223.0 274.8,224.2 272.4,226.3 C270.0,228.4 266.1,231.3 263.0,234.0 C259.9,236.7 256.0,240.0 253.5,242.2 C251.0,244.4 249.8,245.4 247.9,247.1 C246.0,248.8 243.9,251.0 241.8,252.6 C239.7,254.2 237.4,255.7 235.1,256.9 C232.8,258.1 230.0,258.6 227.7,259.7 C225.3,260.8 223.4,262.8 221.0,263.6 C218.6,264.5 215.7,264.4 213.3,264.8 C211.0,265.2 208.9,266.3 206.9,265.9 C204.9,265.5 202.7,264.2 201.4,262.6 C200.1,261.0 199.7,258.4 199.3,256.1 C198.9,253.8 198.8,251.2 198.9,248.8 C199.1,246.4 199.4,244.2 200.2,241.8 C201.0,239.5 202.4,237.1 203.6,234.7 C204.8,232.3 205.9,229.8 207.2,227.6 C208.5,225.3 210.1,223.4 211.6,221.2 C213.1,219.0 214.4,216.7 215.9,214.5 C217.4,212.3 219.0,210.9 220.8,208.3 C222.7,205.7 224.9,201.8 227.0,199.0 C229.1,196.2 230.9,193.9 233.6,191.2 C236.3,188.5 240.1,185.3 243.4,182.6 C246.7,179.8 249.9,177.2 253.2,174.7 C256.5,172.1 260.2,169.3 263.0,167.3 C265.8,165.3 267.2,163.8 270.0,162.5 C272.8,161.2 276.5,160.5 279.8,159.4 C283.1,158.3 287.1,157.0 290.0,156.0 C292.9,155.0 294.9,154.2 297.0,153.3 C299.1,152.4 300.6,151.6 302.4,150.3 C304.2,149.0 306.0,146.2 307.6,145.5 C309.2,144.8 310.6,144.9 312.0,146.0 C313.4,147.1 314.7,149.8 316.0,152.0 C317.3,154.2 318.1,157.0 320.0,159.0 C321.9,161.0 325.2,163.1 327.7,164.2 C330.2,165.3 332.7,165.1 335.1,165.8 C337.6,166.5 339.9,167.6 342.4,168.6 C344.8,169.6 347.4,170.4 349.8,171.6 C352.2,172.8 355.0,174.1 357.0,175.9 C359.0,177.7 362.1,180.3 362.0,182.5 C361.9,184.7 358.9,187.9 356.5,189.3 C354.1,190.8 350.6,190.8 347.9,191.2 C345.1,191.6 342.6,191.9 340.0,191.9 C337.4,191.9 335.6,191.7 332.6,191.3 C329.6,190.9 325.8,190.5 322.2,189.6 C318.6,188.7 314.3,187.2 311.1,185.8 C307.9,184.4 305.3,183.0 303.0,181.0 C300.7,179.0 298.8,176.8 297.3,173.8 C295.8,170.8 295.1,166.8 294.0,163.0 C292.9,159.2 291.9,154.2 290.7,151.0 C289.5,147.8 288.2,146.3 287.0,144.0 C285.8,141.7 284.9,139.3 283.5,137.2 C282.1,135.1 280.2,133.2 278.3,131.3 C276.4,129.4 274.4,127.3 272.4,126.0 C270.4,124.7 267.2,123.9 266.1,123.5" stroke="#f1605d" stroke-width="3" stroke-linecap="butt" stroke-dasharray="3 4.95"/>
<path class="c" clip-path="url(#cp0)" d="M290.6,0.0 C290.7,0.3 290.9,1.2 291.1,2.0 C291.3,2.8 291.5,3.9 291.8,4.9 C292.1,5.9 292.4,7.1 292.6,8.0 C292.8,8.9 293.0,9.6 293.2,10.4 C293.5,11.3 293.7,12.2 293.9,13.1 C294.2,14.0 294.4,14.9 294.7,15.8 C294.9,16.7 295.1,17.4 295.4,18.4 C295.7,19.4 296.0,20.6 296.4,21.7 C296.7,22.7 297.0,23.8 297.3,24.9 C297.7,26.0 298.1,27.2 298.4,28.2 C298.7,29.2 299.0,30.0 299.3,30.9 C299.6,31.8 299.9,32.8 300.2,33.7 C300.6,34.6 300.9,35.6 301.2,36.5 C301.5,37.4 301.8,38.2 302.1,39.2 C302.4,40.2 302.9,41.4 303.2,42.5 C303.6,43.5 303.9,44.5 304.3,45.6 C304.6,46.7 305.0,48.0 305.3,49.0 C305.6,50.0 305.7,50.9 305.9,51.9 C306.1,52.9 306.3,53.9 306.5,55.0 C306.7,56.0 306.9,57.1 307.1,58.1 C307.3,59.1 307.5,60.2 307.8,61.2 C308.0,62.2 308.3,63.2 308.6,64.2 C308.8,65.3 309.1,66.3 309.4,67.3 C309.7,68.3 310.0,69.3 310.2,70.3 C310.5,71.4 310.8,72.4 311.0,73.4 C311.2,74.4 311.4,75.4 311.6,76.4 C311.8,77.5 312.0,78.5 312.2,79.5 C312.3,80.5 312.5,81.5 312.7,82.5 C312.8,83.6 313.0,84.7 313.2,85.7 C313.3,86.7 313.5,87.5 313.6,88.4 C313.8,89.3 313.9,90.2 314.0,91.2 C314.2,92.1 314.3,93.1 314.4,94.0 C314.6,94.9 314.7,95.8 314.9,96.7 C315.0,97.5 315.1,98.2 315.3,99.1 C315.5,100.1 315.8,101.4 316.1,102.5 C316.3,103.5 316.6,104.4 316.9,105.4 C317.1,106.4 317.5,107.5 317.7,108.6 C317.9,109.6 317.9,110.6 318.0,111.7 C318.2,112.7 318.5,113.9 318.7,114.9 C318.8,115.8 318.9,116.6 318.8,117.6 C318.8,118.6 318.3,120.0 318.2,121.0 C318.2,122.1 318.8,123.0 318.7,124.0 C318.7,125.0 318.0,126.0 317.9,127.0 C317.7,127.9 317.7,128.7 317.8,129.7 C317.9,130.8 318.4,131.9 318.5,133.1 C318.5,134.3 318.2,135.8 318.1,136.9 C318.1,138.0 318.5,138.9 318.4,139.9 C318.3,140.9 317.6,141.7 317.5,142.6 C317.5,143.6 317.9,144.7 317.8,145.7 C317.8,146.8 317.5,147.8 317.3,148.8 C317.1,149.8 316.8,150.7 316.6,151.7 C316.4,152.8 316.4,153.8 316.1,154.9 C315.9,155.9 315.2,157.0 315.0,158.0 C314.8,159.0 315.0,159.7 314.9,160.8 C314.7,161.9 314.1,163.4 314.0,164.5 C313.9,165.7 314.3,166.6 314.1,167.5 C313.9,168.5 313.1,169.1 312.9,170.2 C312.6,171.3 312.9,172.9 312.6,174.0 C312.3,175.1 311.5,175.8 311.1,176.7 C310.7,177.6 310.4,178.4 310.0,179.3 C309.7,180.3 309.3,181.4 308.9,182.2 C308.5,183.1 308.1,183.7 307.6,184.5 C307.1,185.3 306.5,186.5 305.9,187.2 C305.4,187.9 305.0,188.0 304.5,188.7 C303.9,189.4 303.5,190.6 302.9,191.5 C302.3,192.4 301.5,193.3 300.9,194.1 C300.3,194.9 300.0,195.3 299.5,196.2 C298.9,197.1 298.2,198.6 297.6,199.5 C297.0,200.3 296.6,200.7 296.0,201.5 C295.4,202.2 294.7,203.0 294.0,203.8 C293.3,204.7 292.7,205.7 292.0,206.3 C291.3,206.9 290.6,206.8 289.9,207.4 C289.2,207.9 288.5,208.9 287.8,209.6 C287.2,210.3 286.6,210.7 285.9,211.4 C285.1,212.2 284.3,213.5 283.4,214.2 C282.6,214.8 281.6,214.8 280.7,215.2 C279.8,215.7 279.0,216.2 278.1,217.0 C277.3,217.8 276.3,219.3 275.5,220.0 C274.7,220.8 274.2,220.8 273.4,221.4 C272.6,222.1 271.5,223.4 270.7,224.1 C269.9,224.8 269.2,225.0 268.4,225.7 C267.7,226.3 267.0,227.3 266.3,228.0 C265.7,228.7 265.3,229.2 264.5,229.7 C263.7,230.3 262.5,230.7 261.7,231.3 C261.0,232.0 260.8,233.0 260.1,233.6 C259.3,234.3 258.1,234.7 257.3,235.2 C256.6,235.7 256.2,236.2 255.4,236.7 C254.5,237.2 253.3,237.6 252.3,238.1 C251.3,238.5 250.3,238.9 249.4,239.5 C248.5,240.1 248.1,241.0 247.1,241.8 C246.1,242.5 244.4,243.5 243.4,244.1 C242.4,244.7 241.8,244.6 241.0,245.3 C240.3,245.9 239.6,247.3 238.8,247.9 C237.9,248.6 237.0,248.9 236.1,249.4 C235.3,249.9 234.4,250.7 233.5,250.9 C232.6,251.1 231.6,250.8 230.8,250.5 C230.0,250.1 229.5,249.2 228.7,248.6 C227.9,247.9 226.7,247.3 226.1,246.5 C225.5,245.7 225.3,244.9 225.1,243.9 C225.0,243.0 225.2,241.9 225.3,240.7 C225.4,239.5 225.7,237.6 225.9,236.5 C226.2,235.4 226.3,235.1 226.8,234.2 C227.2,233.3 228.0,232.0 228.5,231.1 C228.9,230.2 229.1,229.6 229.5,228.7 C229.9,227.7 230.2,226.6 230.7,225.5 C231.1,224.4 231.9,223.3 232.4,222.3 C232.9,221.3 233.2,220.1 233.5,219.3 C233.9,218.4 234.5,217.8 234.8,217.1 C235.0,216.3 234.8,215.5 235.1,214.7 C235.4,214.0 236.1,213.4 236.6,212.6 C237.1,211.8 237.6,210.8 238.2,210.0 C238.8,209.3 239.6,208.7 240.2,208.0 C240.8,207.3 241.3,206.6 241.9,205.9 C242.4,205.3 243.0,205.0 243.5,204.2 C244.0,203.5 244.3,202.2 244.9,201.5 C245.5,200.8 246.5,200.6 247.0,200.0 C247.5,199.4 247.3,198.5 247.9,197.8 C248.5,197.1 249.9,196.3 250.6,195.6 C251.3,194.8 251.5,193.8 252.2,193.0 C252.8,192.2 253.8,191.6 254.5,190.7 C255.1,189.8 255.7,188.7 256.3,187.6 C256.9,186.6 257.4,185.3 258.0,184.4 C258.7,183.6 259.5,183.2 260.3,182.6 C261.0,181.9 261.6,181.2 262.3,180.5 C262.9,179.7 263.6,178.4 264.4,177.8 C265.2,177.2 266.3,177.2 267.2,176.8 C268.1,176.4 268.9,176.2 269.8,175.7 C270.6,175.1 271.5,174.1 272.2,173.4 C273.0,172.6 273.4,171.9 274.1,171.2 C274.7,170.6 275.3,170.1 276.0,169.4 C276.6,168.8 277.4,167.7 277.9,167.2 C278.4,166.6 278.2,166.6 278.9,166.2 C279.5,165.7 281.0,165.1 281.8,164.6 C282.7,164.1 283.0,163.7 284.0,163.2 C284.9,162.8 286.5,162.3 287.6,162.1 C288.8,161.9 289.7,162.1 290.9,162.0 C292.1,162.0 293.8,162.0 294.8,161.8 C295.9,161.6 296.2,160.8 297.2,160.7 C298.1,160.6 299.6,161.4 300.7,161.4 C301.8,161.4 302.7,160.8 303.8,160.8 C304.8,160.8 306.0,161.5 306.9,161.5 C307.8,161.6 308.4,161.2 309.4,161.2 C310.3,161.1 311.5,161.6 312.4,161.5 C313.3,161.4 313.7,160.6 314.5,160.6 C315.3,160.5 316.2,161.0 317.1,161.0 C318.0,161.1 318.8,160.9 319.6,160.7 C320.4,160.5 321.2,160.0 322.0,159.8 C322.9,159.7 323.7,159.7 324.7,159.6 C325.7,159.4 327.1,159.1 328.2,159.1 C329.2,159.0 330.5,159.5 331.2,159.5 C331.9,159.4 332.4,159.0 332.6,158.9" stroke="#b73779" stroke-width="4" stroke-linecap="square"/>
<path class="c" clip-path="url(#cp0)" d="M289.7,0.0 C289.8,0.3 290.0,1.2 290.2,2.0 C290.4,2.8 290.6,3.9 290.9,4.9 C291.2,5.9 291.5,7.1 291.7,8.0 C291.9,8.9 292.1,9.6 292.3,10.4 C292.6,11.3 292.8,12.2 293.0,13.1 C293.3,14.0 293.5,14.9 293.8,15.8 C294.0,16.7 294.2,17.4 294.5,18.4 C294.8,19.4 295.1,20.6 295.5,21.7 C295.8,22.7 296.1,23.8 296.4,24.9 C296.8,26.0 297.2,27.2 297.5,28.2 C297.8,29.2 298.1,30.0 298.4,30.9 C298.7,31.8 299.0,32.8 299.3,33.7 C299.7,34.6 300.0,35.6 300.3,36.5 C300.6,37.4 300.9,38.2 301.2,39.2 C301.5,40.2 301.9,41.4 302.3,42.5 C302.7,43.5 303.0,44.5 303.3,45.6 C303.7,46.7 304.0,48.0 304.3,49.0 C304.6,50.0 304.7,50.9 304.9,51.9 C305.1,52.9 305.3,53.9 305.5,55.0 C305.7,56.0 305.9,57.1 306.1,58.1 C306.3,59.1 306.5,60.2 306.7,61.2 C306.9,62.2 307.2,63.2 307.4,64.2 C307.7,65.3 308.0,66.3 308.3,67.3 C308.5,68.3 308.8,69.3 309.1,70.3 C309.3,71.4 309.6,72.4 309.8,73.4 C310.0,74.4 310.2,75.4 310.4,76.4 C310.6,77.5 310.8,78.5 310.9,79.5 C311.1,80.5 311.2,81.5 311.4,82.5 C311.6,83.6 311.7,84.7 311.9,85.7 C312.1,86.7 312.6,87.7 312.6,88.6 C312.7,89.5 312.2,90.2 312.2,91.1 C312.2,91.9 312.4,93.1 312.7,93.9 C312.9,94.8 313.6,95.4 313.7,96.3 C313.8,97.3 313.1,98.4 313.3,99.5 C313.5,100.6 314.5,101.9 314.8,102.9 C315.0,104.0 314.7,104.7 315.0,105.7 C315.3,106.8 316.4,108.0 316.6,109.0 C316.8,110.0 316.3,110.6 316.3,111.6 C316.3,112.6 316.4,113.8 316.6,114.9 C316.7,116.0 317.1,117.0 317.0,118.0 C317.0,119.1 316.4,120.1 316.2,121.1 C316.1,122.1 316.3,123.1 316.4,124.2 C316.4,125.3 316.4,126.6 316.4,127.6 C316.4,128.5 316.6,128.8 316.5,129.9 C316.5,130.9 316.4,132.8 316.3,134.0 C316.2,135.1 316.0,135.7 316.0,136.7 C316.1,137.8 316.4,139.2 316.4,140.2 C316.3,141.2 315.9,141.6 315.6,142.7 C315.2,143.7 314.6,145.1 314.3,146.4 C314.0,147.7 314.2,149.2 313.9,150.4 C313.6,151.5 312.9,152.3 312.6,153.2 C312.3,154.1 312.5,154.6 312.1,155.6 C311.8,156.7 311.1,158.3 310.8,159.4 C310.4,160.6 310.3,161.6 310.1,162.7 C309.9,163.8 309.9,164.8 309.7,165.8 C309.5,166.9 309.2,168.0 308.8,169.0 C308.5,170.0 308.0,171.2 307.6,172.1 C307.2,173.0 306.8,173.7 306.5,174.5 C306.2,175.3 306.2,176.2 305.8,177.0 C305.4,177.8 304.5,178.6 303.9,179.4 C303.4,180.2 302.9,181.1 302.3,181.8 C301.8,182.6 301.0,183.3 300.5,184.0 C300.0,184.6 299.6,185.0 299.2,185.6 C298.9,186.2 298.8,186.9 298.4,187.6 C298.0,188.3 297.5,189.1 296.9,189.8 C296.3,190.4 295.6,190.7 294.9,191.4 C294.3,192.2 293.7,193.5 293.0,194.3 C292.2,195.1 291.1,195.5 290.4,196.3 C289.7,197.1 289.6,198.2 288.9,198.9 C288.1,199.7 286.6,200.3 285.8,201.0 C284.9,201.7 284.6,202.6 283.9,203.3 C283.2,204.1 282.4,205.0 281.6,205.6 C280.9,206.2 280.0,206.6 279.3,207.0 C278.7,207.5 278.5,207.6 277.7,208.3 C277.0,209.0 275.8,210.6 274.7,211.3 C273.6,212.0 272.2,211.9 271.1,212.4 C270.1,212.9 269.3,213.5 268.5,214.1 C267.7,214.8 267.1,215.3 266.3,216.2 C265.6,217.0 264.8,218.5 263.9,219.2 C263.0,220.0 261.8,220.1 260.9,220.7 C260.0,221.3 259.3,222.4 258.6,223.1 C257.9,223.7 257.4,224.1 256.8,224.7 C256.3,225.3 256.1,225.9 255.3,226.5 C254.5,227.0 252.8,228.0 252.1,227.8 C251.4,227.6 251.4,225.9 251.3,225.0 C251.3,224.2 251.6,223.5 251.9,222.6 C252.1,221.7 252.4,220.3 252.9,219.5 C253.5,218.6 254.7,218.1 255.1,217.3 C255.5,216.5 255.1,215.7 255.4,214.8 C255.7,213.9 256.3,212.5 256.8,211.7 C257.3,210.9 257.7,210.7 258.3,209.9 C258.9,209.1 259.7,208.0 260.1,207.1 C260.6,206.2 260.6,205.3 261.1,204.6 C261.6,203.8 262.8,203.5 263.3,202.6 C263.8,201.8 263.9,200.0 264.2,199.4 C264.5,198.7 264.8,199.4 265.2,198.9 C265.6,198.3 266.0,196.9 266.5,196.0 C267.0,195.1 267.8,194.5 268.3,193.6 C268.9,192.7 269.4,191.3 269.9,190.6 C270.4,189.8 270.8,189.8 271.4,189.0 C272.0,188.3 272.9,187.0 273.6,186.0 C274.2,184.9 274.7,183.7 275.4,182.8 C276.2,181.9 277.4,181.3 278.1,180.5 C278.8,179.7 278.8,179.1 279.5,178.2 C280.2,177.3 281.5,176.0 282.3,175.3 C283.1,174.5 283.8,174.0 284.4,173.5 C284.9,173.1 285.0,173.0 285.8,172.5 C286.6,172.0 288.9,171.0 289.2,170.5 C289.4,170.0 286.9,170.0 287.2,169.6 C287.5,169.1 289.6,168.1 290.9,167.7 C292.2,167.3 294.5,167.5 294.9,167.2 C295.3,166.8 293.0,166.0 293.2,165.6 C293.3,165.2 295.0,165.3 295.9,164.8 C296.7,164.3 297.6,163.3 298.3,162.8 C299.0,162.2 299.5,162.0 300.2,161.4 C300.9,160.9 301.7,160.1 302.5,159.4 C303.3,158.7 304.3,158.1 305.0,157.3 C305.8,156.6 306.3,155.6 307.0,155.0 C307.7,154.5 308.8,154.2 309.2,154.0" stroke="#721f81" stroke-width="4" stroke-linecap="square"/>
<path class="c" clip-path="url(#cp0)" d="M288.5,170.7 C289.3,170.2 292.0,168.5 293.5,167.6 C295.0,166.7 296.8,165.6 297.5,165.2" stroke="#721f81" stroke-width="6.2" stroke-linecap="butt" stroke-dasharray="100 1"/>
<path class="c" clip-path="url(#cp1)" d="M654.7,0.0 C654.8,0.3 654.9,1.0 655.0,1.8 C655.2,2.5 655.4,3.4 655.6,4.4 C655.7,5.4 656.0,7.0 656.1,8.0 C656.2,9.0 656.3,9.5 656.4,10.3 C656.5,11.1 656.6,12.1 656.7,13.0 C656.8,14.0 656.9,15.0 657.0,16.0 C657.1,17.0 657.2,18.0 657.3,19.0 C657.4,20.0 657.5,21.0 657.6,21.9 C657.7,22.8 657.8,23.5 657.9,24.5 C658.0,25.5 658.2,26.8 658.3,27.9 C658.5,29.0 658.6,30.0 658.7,31.0 C658.9,32.0 659.0,33.0 659.2,33.9 C659.3,34.9 659.4,35.7 659.7,36.7 C660.0,37.7 660.3,38.9 660.7,40.0 C661.1,41.0 661.5,41.9 661.8,43.0 C662.2,44.0 662.6,45.5 662.8,46.5 C663.0,47.5 663.1,48.2 663.2,49.1 C663.3,50.0 663.4,50.9 663.5,51.8 C663.6,52.8 663.7,53.8 663.8,54.8 C663.9,55.8 664.0,56.9 664.1,57.9 C664.1,59.0 664.2,60.2 664.3,61.2 C664.4,62.2 664.4,63.1 664.5,64.1 C664.5,65.2 664.6,66.3 664.7,67.4 C664.7,68.4 664.8,69.6 664.8,70.7 C664.8,71.8 664.9,72.9 664.9,73.9 C665.0,75.0 665.1,76.0 665.1,77.0 C665.2,77.9 665.2,78.6 665.3,79.6 C665.4,80.6 665.5,81.8 665.7,82.8 C665.8,83.8 665.9,84.6 666.1,85.4 C666.2,86.2 666.3,86.9 666.5,87.7 C666.6,88.4 666.7,89.1 666.8,90.0 C666.9,90.9 667.1,92.0 667.2,93.0 C667.3,94.0 667.4,94.8 667.5,95.8 C667.5,96.9 667.6,98.1 667.7,99.1 C667.8,100.1 667.8,100.9 667.8,101.8 C667.9,102.8 668.0,103.7 668.0,104.7 C668.1,105.8 668.1,106.8 668.1,108.0 C668.1,109.2 668.1,111.0 668.1,112.2 C668.2,113.3 668.4,114.0 668.4,115.0 C668.5,115.9 668.4,116.8 668.4,117.9 C668.4,118.9 668.4,120.2 668.4,121.4 C668.4,122.5 668.3,123.6 668.4,124.8 C668.5,125.9 669.0,127.3 669.1,128.4 C669.1,129.5 668.7,130.6 668.7,131.5 C668.6,132.4 668.8,132.8 668.8,133.9 C668.8,134.9 668.5,136.8 668.6,137.9 C668.8,138.9 669.5,139.5 669.5,140.3 C669.6,141.2 668.8,142.2 668.8,143.2 C668.8,144.2 669.7,145.4 669.7,146.3 C669.7,147.1 668.8,147.3 668.6,148.3 C668.4,149.2 668.4,151.0 668.4,152.1 C668.5,153.1 669.1,153.7 669.0,154.6 C669.0,155.4 668.3,156.4 668.0,157.4 C667.7,158.4 667.5,159.7 667.4,160.7 C667.2,161.8 667.3,162.8 667.2,163.7 C667.0,164.6 666.6,165.1 666.5,166.0 C666.3,166.9 666.5,168.1 666.4,169.2 C666.3,170.2 666.2,171.4 665.8,172.4 C665.5,173.5 664.7,174.7 664.5,175.5 C664.2,176.4 664.4,176.5 664.3,177.5 C664.1,178.5 663.8,180.5 663.4,181.6 C662.9,182.7 662.3,183.1 661.7,184.1 C661.1,185.1 660.3,186.6 659.9,187.5 C659.5,188.4 659.7,188.9 659.3,189.6 C658.9,190.2 657.9,190.8 657.4,191.6 C656.8,192.4 656.4,193.8 655.9,194.5 C655.4,195.2 654.7,195.3 654.3,196.0 C653.9,196.8 654.0,198.1 653.6,198.9 C653.2,199.6 652.7,200.0 652.1,200.7 C651.5,201.4 650.6,202.2 650.0,203.2 C649.4,204.1 648.9,205.2 648.5,206.2 C648.1,207.2 647.7,208.4 647.3,209.1 C646.9,209.9 646.4,210.1 646.0,210.9 C645.6,211.8 645.4,213.3 644.9,214.3 C644.4,215.2 643.7,215.7 643.0,216.6 C642.3,217.4 641.4,218.3 640.9,219.3 C640.4,220.2 640.7,221.1 640.2,222.1 C639.7,223.0 638.5,224.1 637.9,225.1 C637.3,226.1 637.2,227.0 636.7,228.0 C636.3,229.0 635.8,230.1 635.2,231.0 C634.6,231.9 633.7,232.7 633.0,233.6 C632.4,234.5 631.8,235.4 631.3,236.2 C630.8,237.0 630.5,237.7 630.1,238.6 C629.6,239.4 629.0,240.4 628.4,241.4 C627.8,242.4 627.2,243.6 626.5,244.5 C625.8,245.4 625.1,245.9 624.4,246.7 C623.7,247.5 622.9,248.4 622.3,249.2 C621.7,250.1 621.2,250.8 620.7,251.7 C620.3,252.5 620.3,253.6 619.8,254.3 C619.2,255.0 618.1,255.3 617.3,255.9 C616.5,256.5 615.7,257.4 615.1,258.1 C614.5,258.8 614.0,259.4 613.5,260.2 C613.0,261.0 612.7,261.9 612.1,262.7 C611.6,263.4 610.8,263.8 610.1,264.7 C609.4,265.7 608.5,267.2 607.8,268.2 C607.2,269.2 606.7,270.0 606.1,270.7 C605.6,271.5 605.4,271.9 604.7,272.5 C604.0,273.2 602.7,274.0 601.9,274.7 C601.1,275.4 600.5,276.2 600.0,276.9 C599.5,277.6 599.5,278.1 598.9,278.7 C598.4,279.4 597.1,280.2 596.5,281.0 C595.9,281.9 595.9,283.2 595.4,284.0 C594.8,284.8 593.8,285.5 593.1,286.0 C592.4,286.4 591.7,286.4 591.2,287.0 C590.6,287.5 590.4,288.4 589.9,289.1 C589.3,289.8 588.4,290.6 587.9,291.1 C587.4,291.7 587.6,291.9 586.9,292.4 C586.3,293.0 584.9,293.7 584.1,294.4 C583.4,295.1 582.9,295.9 582.4,296.5 C582.0,297.1 581.9,297.3 581.4,297.9 C580.9,298.5 579.9,299.5 579.2,300.1 C578.6,300.7 578.2,301.0 577.4,301.5 C576.7,302.0 575.4,302.4 574.8,303.0 C574.1,303.6 574.2,304.6 573.5,305.2 C572.7,305.7 571.3,305.6 570.3,306.1 C569.3,306.5 568.3,307.3 567.3,307.8 C566.3,308.2 565.1,308.4 564.3,308.7 C563.5,308.9 563.3,309.3 562.7,309.2 C562.2,309.0 561.5,308.3 561.0,307.6 C560.5,307.0 560.1,305.9 559.9,305.1 C559.7,304.3 559.8,303.7 559.8,302.7 C559.9,301.7 560.0,300.3 560.1,299.2 C560.2,298.0 560.2,297.1 560.5,296.0 C560.8,295.0 561.6,294.0 561.8,293.0 C562.1,292.0 561.9,291.3 562.1,290.1 C562.4,288.9 563.0,286.8 563.4,285.7 C563.7,284.5 563.9,284.1 564.3,283.1 C564.8,282.2 565.6,281.0 566.1,280.0 C566.5,278.9 566.7,277.7 567.0,276.8 C567.4,275.9 567.6,275.6 568.1,274.8 C568.5,274.0 569.5,272.8 570.0,271.9 C570.5,271.1 570.8,270.4 571.2,269.7 C571.6,269.0 572.1,268.4 572.5,267.6 C572.9,266.8 573.1,265.7 573.5,265.0 C574.0,264.3 574.7,264.2 575.2,263.4 C575.6,262.7 575.8,261.3 576.2,260.3 C576.6,259.4 577.0,258.7 577.4,257.7 C577.9,256.8 578.2,255.4 578.7,254.5 C579.1,253.5 579.6,252.8 580.0,252.0 C580.4,251.1 580.4,250.1 580.9,249.2 C581.5,248.2 582.6,247.2 583.2,246.2 C583.9,245.1 584.3,244.1 584.7,243.1 C585.1,242.2 585.2,241.1 585.6,240.3 C586.0,239.5 586.5,239.0 587.1,238.4 C587.7,237.7 588.5,237.0 589.0,236.4 C589.6,235.9 589.5,235.6 590.2,234.9 C590.9,234.1 592.5,232.9 593.3,232.0 C594.0,231.2 594.0,230.7 594.5,229.8 C595.0,229.0 595.6,228.0 596.1,227.1 C596.6,226.1 597.1,225.1 597.6,224.2 C598.2,223.2 598.8,222.5 599.4,221.6 C600.0,220.7 600.6,219.5 601.1,218.5 C601.7,217.6 602.2,217.0 602.8,216.1 C603.4,215.2 604.1,214.0 604.8,213.2 C605.4,212.4 606.0,212.1 606.6,211.4 C607.3,210.6 608.1,209.5 608.7,208.7 C609.4,207.8 609.8,207.1 610.5,206.5 C611.2,205.8 612.2,205.6 612.9,204.8 C613.6,204.1 614.0,202.9 614.6,202.1 C615.2,201.4 615.9,201.2 616.5,200.4 C617.1,199.6 617.7,198.2 618.4,197.3 C619.1,196.5 620.0,196.1 620.6,195.3 C621.2,194.4 621.4,193.3 622.1,192.3 C622.8,191.4 624.0,190.4 624.6,189.6 C625.3,188.9 625.7,188.6 626.3,187.8 C626.9,187.0 627.4,185.8 628.1,185.0 C628.7,184.1 629.3,183.5 629.9,182.7 C630.6,181.9 631.3,181.0 632.0,180.2 C632.7,179.3 633.5,178.3 634.1,177.6 C634.8,176.9 635.1,176.6 635.7,175.9 C636.4,175.2 637.4,174.3 638.1,173.5 C638.9,172.8 639.4,172.0 640.1,171.5 C640.8,170.9 641.6,170.8 642.3,170.2 C642.9,169.6 643.3,168.6 644.0,167.9 C644.6,167.2 645.3,166.7 646.2,166.0 C647.0,165.3 648.2,164.5 649.0,163.9 C649.8,163.3 649.8,162.8 650.8,162.3 C651.7,161.8 653.6,161.4 654.6,160.8 C655.7,160.3 656.1,159.3 656.8,159.0 C657.6,158.7 658.2,159.2 659.0,159.1 C659.8,158.9 660.6,158.5 661.7,158.1 C662.8,157.8 664.5,157.5 665.6,157.2 C666.7,156.8 667.5,156.3 668.3,156.0 C669.1,155.7 669.6,155.6 670.5,155.3 C671.3,155.1 672.3,154.9 673.3,154.6 C674.4,154.3 675.8,153.9 676.8,153.6 C677.9,153.3 678.7,153.0 679.7,152.9 C680.6,152.7 681.5,152.7 682.5,152.4 C683.4,152.1 684.5,151.5 685.4,151.1 C686.3,150.7 687.0,150.3 688.0,150.0 C689.0,149.7 690.5,149.6 691.4,149.3 C692.3,149.0 692.7,148.5 693.5,148.2 C694.4,147.9 695.6,147.7 696.7,147.3 C697.7,147.0 698.9,146.5 699.8,146.3 C700.8,146.1 701.5,146.1 702.3,145.9 C703.2,145.8 704.0,145.4 704.9,145.2 C705.9,145.0 707.1,144.9 708.1,144.8 C709.1,144.6 710.0,144.5 711.0,144.2 C712.0,143.9 712.9,143.3 714.0,143.2 C715.1,143.0 716.4,143.5 717.4,143.3 C718.5,143.1 719.2,142.5 720.2,142.2 C721.2,141.8 722.7,141.2 723.7,141.1 C724.7,141.0 725.2,141.5 726.2,141.3 C727.2,141.2 728.6,140.5 729.5,140.4 C730.3,140.3 730.0,140.8 731.0,140.8 C732.1,140.9 734.5,140.4 735.8,140.5 C737.1,140.7 738.1,141.6 739.0,141.9 C739.9,142.1 740.2,142.2 741.4,142.0 C742.5,141.9 744.5,141.2 745.8,141.0 C747.0,140.9 748.0,141.0 749.0,141.1 C750.1,141.2 751.1,141.6 752.2,141.6 C753.3,141.6 754.7,141.1 755.5,141.1 C756.3,141.2 756.6,141.6 757.3,141.9 C758.0,142.2 759.2,142.3 759.9,142.8 C760.6,143.4 761.3,144.3 761.5,145.3 C761.6,146.3 761.2,147.6 760.8,148.8 C760.5,149.9 759.9,151.2 759.4,152.0 C758.8,152.8 758.3,153.1 757.5,153.5 C756.7,154.0 755.6,154.4 754.6,154.8 C753.6,155.2 752.4,155.3 751.4,155.7 C750.5,156.1 749.8,156.9 749.0,157.3 C748.2,157.7 747.3,157.9 746.4,158.2 C745.6,158.5 744.9,158.9 744.0,159.2 C743.0,159.6 741.7,160.0 740.7,160.4 C739.8,160.9 739.3,161.3 738.4,161.8 C737.4,162.3 736.1,163.0 735.1,163.5 C734.2,164.0 733.6,164.4 732.5,164.9 C731.5,165.4 730.1,166.1 729.1,166.5 C728.0,166.9 727.3,167.0 726.3,167.0 C725.3,167.1 724.2,166.9 723.1,167.0 C722.0,167.1 720.6,167.6 719.6,167.7 C718.5,167.9 717.6,167.6 716.7,167.9 C715.9,168.1 715.1,168.7 714.3,169.2 C713.5,169.7 712.7,170.4 712.0,170.9 C711.2,171.3 710.4,171.6 709.5,171.8 C708.7,172.0 707.8,172.1 706.8,172.0 C705.8,171.9 704.5,171.3 703.3,171.2 C702.1,171.1 700.5,171.2 699.4,171.4 C698.4,171.6 698.0,172.4 697.0,172.6 C696.1,172.9 694.7,172.9 693.7,173.1 C692.7,173.2 691.9,173.3 690.8,173.5 C689.8,173.7 688.5,174.2 687.3,174.4 C686.1,174.7 684.7,174.9 683.6,175.0 C682.5,175.1 681.3,174.9 680.8,174.9" stroke="#feb078" stroke-width="3" stroke-linecap="square"/>
<path class="c" clip-path="url(#cp1)" d="M654.0,0.0 C654.1,0.3 654.2,1.0 654.3,1.8 C654.5,2.5 654.7,3.4 654.9,4.4 C655.0,5.4 655.3,7.0 655.4,8.0 C655.5,9.0 655.6,9.5 655.7,10.3 C655.8,11.1 655.9,12.1 656.0,13.0 C656.1,14.0 656.2,15.0 656.3,16.0 C656.4,17.0 656.5,18.0 656.6,19.0 C656.7,20.0 656.8,21.0 656.9,21.9 C657.0,22.8 657.1,23.5 657.2,24.5 C657.3,25.5 657.5,26.8 657.6,27.9 C657.8,29.0 657.9,30.0 658.0,31.0 C658.2,32.0 658.3,33.0 658.5,33.9 C658.6,34.9 658.7,35.7 659.0,36.7 C659.3,37.7 659.6,38.9 660.0,40.0 C660.4,41.0 660.8,41.9 661.1,43.0 C661.5,44.0 661.9,45.5 662.1,46.5 C662.3,47.5 662.4,48.2 662.5,49.1 C662.6,50.0 662.7,50.9 662.8,51.8 C662.9,52.8 663.0,53.8 663.1,54.8 C663.2,55.8 663.3,56.9 663.4,57.9 C663.4,59.0 663.5,60.2 663.6,61.2 C663.7,62.2 663.7,63.1 663.8,64.1 C663.8,65.2 663.9,66.3 664.0,67.4 C664.0,68.4 664.1,69.6 664.1,70.7 C664.1,71.8 664.2,72.9 664.2,73.9 C664.3,75.0 664.4,76.0 664.4,77.0 C664.5,77.9 664.5,78.6 664.6,79.6 C664.7,80.6 664.8,81.8 665.0,82.8 C665.1,83.8 665.2,84.6 665.4,85.4 C665.5,86.2 665.6,86.9 665.8,87.7 C665.9,88.4 666.0,89.1 666.1,90.0 C666.2,90.9 666.4,92.0 666.5,93.0 C666.6,94.0 666.7,94.8 666.8,95.8 C666.8,96.9 666.9,98.1 667.0,99.1 C667.1,100.1 667.1,100.8 667.2,101.8 C667.2,102.7 667.3,103.7 667.3,104.7 C667.3,105.8 667.2,106.9 667.2,108.1 C667.2,109.3 667.5,110.9 667.5,112.0 C667.6,113.1 667.4,113.7 667.5,114.7 C667.5,115.6 668.0,116.7 668.0,117.7 C667.9,118.8 667.3,119.9 667.3,121.1 C667.2,122.2 667.6,123.5 667.8,124.6 C667.9,125.8 668.0,126.7 668.1,127.8 C668.1,129.0 668.1,130.4 668.0,131.5 C668.0,132.7 667.9,133.7 667.9,134.6 C667.9,135.6 668.0,136.2 668.1,137.2 C668.2,138.2 668.5,139.6 668.5,140.7 C668.4,141.7 668.0,142.7 667.8,143.5 C667.7,144.3 667.4,144.8 667.5,145.7 C667.5,146.6 668.2,147.7 668.1,148.7 C668.1,149.8 667.3,150.9 667.2,151.9 C667.1,152.9 667.7,153.7 667.5,154.6 C667.4,155.6 666.5,156.4 666.4,157.5 C666.2,158.5 666.6,159.7 666.6,160.7 C666.6,161.7 666.8,162.4 666.6,163.3 C666.3,164.3 665.5,165.4 665.3,166.4 C665.1,167.3 665.3,168.3 665.2,169.1 C665.0,170.0 664.7,170.6 664.5,171.6 C664.2,172.6 663.9,174.0 663.6,175.1 C663.3,176.3 663.1,177.3 662.6,178.3 C662.2,179.3 661.4,180.3 661.0,181.3 C660.6,182.4 660.6,183.6 660.2,184.6 C659.8,185.5 659.1,186.0 658.6,187.0 C658.0,188.0 657.3,189.9 656.9,190.8 C656.5,191.6 656.5,191.6 656.1,192.2 C655.7,192.9 654.8,193.8 654.3,194.6 C653.8,195.4 653.6,196.1 653.1,196.8 C652.7,197.5 652.3,198.2 651.9,198.8 C651.4,199.4 650.9,199.9 650.3,200.6 C649.8,201.3 649.1,202.1 648.5,203.0 C647.8,203.8 647.1,204.6 646.5,205.6 C645.9,206.5 645.7,207.8 644.9,208.9 C644.2,209.9 642.4,210.9 641.8,211.8 C641.2,212.7 641.5,213.2 641.3,214.0 C641.0,214.9 640.7,215.9 640.3,216.8 C639.8,217.7 639.2,218.3 638.6,219.2 C638.1,220.2 637.8,221.4 637.2,222.4 C636.6,223.4 635.5,224.3 634.9,225.2 C634.3,226.1 633.9,226.9 633.4,227.9 C633.0,228.9 632.7,230.2 632.3,231.1 C631.9,232.1 631.3,232.8 630.8,233.6 C630.3,234.4 629.7,235.2 629.3,236.1 C628.9,236.9 628.7,237.6 628.2,238.7 C627.7,239.8 627.2,241.4 626.5,242.4 C625.7,243.4 624.5,244.0 623.8,244.8 C623.1,245.6 622.5,246.6 622.1,247.4 C621.7,248.3 622.0,249.1 621.4,249.7 C620.9,250.4 619.4,250.5 618.6,251.3 C617.9,252.1 617.5,253.6 617.0,254.6 C616.5,255.5 616.0,256.3 615.6,257.0 C615.2,257.7 615.0,258.1 614.5,258.9 C613.9,259.6 612.9,260.8 612.2,261.6 C611.6,262.3 611.2,262.7 610.5,263.3 C609.8,263.9 608.8,264.3 608.0,264.9 C607.2,265.6 606.4,266.7 605.9,267.4 C605.3,268.2 605.2,269.0 604.6,269.6 C604.1,270.2 603.3,270.5 602.6,271.1 C601.9,271.7 601.4,273.1 600.5,273.3 C599.5,273.5 597.4,272.8 596.8,272.3 C596.1,271.7 596.6,270.9 596.5,270.0 C596.4,269.1 596.1,268.0 596.2,267.0 C596.3,266.1 596.8,265.2 597.1,264.3 C597.3,263.5 597.4,262.6 597.7,261.9 C597.9,261.3 598.1,261.0 598.5,260.3 C598.9,259.5 599.6,258.4 600.1,257.7 C600.6,256.9 601.1,256.7 601.4,255.9 C601.6,255.1 601.4,254.0 601.7,253.1 C601.9,252.2 602.5,251.3 602.8,250.3 C603.2,249.3 603.4,248.2 603.7,247.2 C604.0,246.1 604.1,244.9 604.5,244.1 C604.8,243.2 605.4,242.9 605.7,242.0 C606.0,241.2 606.2,240.1 606.4,239.1 C606.6,238.1 606.9,237.0 607.1,236.1 C607.3,235.3 607.1,234.7 607.4,233.8 C607.7,233.0 608.6,231.7 609.1,230.9 C609.5,230.1 609.7,229.7 610.0,229.0 C610.4,228.3 610.7,227.5 611.3,226.8 C611.9,226.0 613.0,225.5 613.6,224.6 C614.2,223.8 614.3,222.5 614.8,221.6 C615.2,220.8 615.7,220.3 616.2,219.4 C616.8,218.6 617.3,217.4 617.9,216.5 C618.5,215.6 619.3,214.7 619.8,213.9 C620.2,213.1 620.3,212.6 620.7,211.8 C621.1,211.0 621.6,209.9 622.1,209.0 C622.7,208.1 623.4,207.2 623.9,206.4 C624.3,205.5 624.4,204.6 624.8,203.8 C625.3,203.1 626.1,202.6 626.6,201.8 C627.1,201.0 627.3,200.0 627.8,199.1 C628.2,198.2 628.8,197.2 629.3,196.5 C629.8,195.8 630.2,195.3 630.8,194.8 C631.3,194.2 632.1,193.8 632.6,193.1 C633.1,192.4 633.3,191.2 633.8,190.4 C634.3,189.6 635.1,188.9 635.6,188.1 C636.0,187.2 636.0,186.5 636.4,185.6 C636.9,184.7 637.6,183.6 638.1,182.7 C638.6,181.8 639.0,180.9 639.5,180.1 C640.1,179.3 641.0,178.5 641.5,177.7 C642.0,177.0 641.9,176.4 642.5,175.5 C643.1,174.6 644.3,173.2 645.1,172.3 C645.8,171.4 646.4,170.7 647.1,170.1 C647.7,169.5 648.1,169.3 648.9,168.7 C649.7,168.1 651.1,167.2 651.8,166.5 C652.6,165.8 652.8,165.1 653.4,164.5 C654.0,164.0 654.7,163.8 655.5,163.3 C656.3,162.7 657.4,161.7 658.3,161.0 C659.3,160.4 660.3,159.8 661.1,159.2 C662.0,158.7 662.5,158.1 663.5,157.6 C664.4,157.2 665.7,157.1 666.6,156.5 C667.4,155.9 667.8,154.6 668.5,154.1 C669.3,153.5 670.3,153.4 671.2,153.0 C672.1,152.6 672.9,152.1 673.7,151.7 C674.5,151.2 675.2,150.8 676.0,150.3 C676.9,149.9 678.0,149.3 678.8,148.7 C679.6,148.2 679.9,147.7 680.7,147.2 C681.5,146.6 682.8,145.9 683.6,145.4 C684.5,144.8 685.2,144.3 685.9,143.9 C686.6,143.5 687.2,143.3 687.9,142.8 C688.7,142.4 689.8,141.8 690.6,141.3 C691.4,140.7 692.0,140.0 692.8,139.6 C693.5,139.1 694.2,138.8 694.9,138.3 C695.6,137.7 696.3,136.8 696.9,136.4 C697.6,135.9 698.1,135.8 698.8,135.6 C699.6,135.3 700.7,135.1 701.5,134.9 C702.4,134.8 703.2,134.8 703.9,134.6 C704.6,134.4 705.1,133.6 705.9,133.6 C706.7,133.6 708.5,134.1 708.9,134.6 C709.3,135.2 708.7,135.8 708.2,136.8 C707.7,137.8 706.5,139.7 705.9,140.5 C705.3,141.4 705.0,141.3 704.4,141.7 C703.9,142.2 703.2,142.7 702.4,143.1 C701.6,143.5 700.5,143.7 699.6,144.3 C698.7,144.8 697.7,145.5 697.1,146.3 C696.4,147.0 696.3,147.8 695.5,148.6 C694.8,149.3 693.4,150.0 692.6,150.6 C691.8,151.3 691.5,151.9 690.7,152.5 C690.0,153.2 688.9,154.0 688.1,154.5 C687.3,155.0 686.5,155.0 685.7,155.6 C685.0,156.2 684.2,157.5 683.5,158.1 C682.8,158.6 682.4,158.7 681.5,159.1 C680.7,159.5 679.3,160.1 678.5,160.6 C677.7,161.1 677.5,161.6 676.7,162.1 C675.8,162.6 674.5,163.2 673.5,163.7 C672.6,164.2 671.9,164.9 671.0,165.3 C670.2,165.7 669.2,165.6 668.4,166.1 C667.6,166.6 667.1,167.5 666.1,168.0 C665.2,168.5 663.7,168.9 662.7,169.3 C661.8,169.7 661.4,170.0 660.4,170.4 C659.5,170.9 658.1,171.8 657.1,172.1 C656.2,172.4 655.7,172.2 654.7,172.2 C653.8,172.3 652.5,172.5 651.4,172.5 C650.3,172.5 648.9,172.0 648.0,172.1 C647.1,172.3 646.9,173.0 646.0,173.1 C645.2,173.3 643.7,173.1 642.7,173.1 C641.7,173.2 641.0,173.1 640.0,173.4 C639.0,173.6 637.9,174.4 636.9,174.7 C635.9,175.0 634.7,175.0 633.8,175.1 C632.8,175.3 632.1,175.3 631.2,175.5 C630.2,175.7 629.1,176.2 628.1,176.3 C627.0,176.5 625.8,176.2 624.8,176.4 C623.7,176.5 622.9,176.8 621.8,177.0 C620.8,177.2 619.4,177.2 618.3,177.4 C617.1,177.5 615.8,177.7 614.8,177.8 C613.7,177.9 612.8,178.0 611.9,178.1 C611.0,178.2 610.2,178.6 609.2,178.3 C608.2,178.1 606.7,177.2 606.1,176.6 C605.4,176.0 605.3,175.3 605.4,174.7 C605.4,174.2 605.7,173.8 606.3,173.3 C606.8,172.8 607.9,172.4 608.9,171.9 C609.9,171.5 611.3,171.0 612.2,170.6 C613.1,170.2 613.3,169.7 614.3,169.4 C615.3,169.2 616.7,169.1 618.0,169.0 C619.3,168.9 620.8,168.9 622.0,168.8 C623.2,168.6 624.2,168.5 625.2,168.3 C626.2,168.2 626.8,167.8 627.8,167.7 C628.7,167.7 629.8,168.2 630.9,168.1 C632.0,167.9 633.2,166.9 634.2,166.8 C635.2,166.7 635.9,167.7 637.0,167.6 C638.0,167.5 639.4,166.4 640.6,166.2 C641.7,166.0 642.8,166.5 643.9,166.4 C645.1,166.3 646.4,165.7 647.4,165.6 C648.3,165.4 649.1,165.5 649.5,165.5" stroke="#f1605d" stroke-width="3" stroke-linecap="square"/>
<path class="c" clip-path="url(#cp1)" d="M653.3,0.0 C653.4,0.3 653.5,1.0 653.6,1.8 C653.8,2.5 654.0,3.4 654.2,4.4 C654.3,5.4 654.6,7.0 654.7,8.0 C654.8,9.0 654.9,9.5 655.0,10.3 C655.1,11.1 655.2,12.1 655.3,13.0 C655.4,14.0 655.5,15.0 655.6,16.0 C655.7,17.0 655.8,18.0 655.9,19.0 C656.0,20.0 656.1,21.0 656.2,21.9 C656.3,22.8 656.4,23.5 656.5,24.5 C656.6,25.5 656.8,26.8 656.9,27.9 C657.1,29.0 657.2,30.0 657.3,31.0 C657.5,32.0 657.6,33.0 657.8,33.9 C657.9,34.9 658.0,35.7 658.3,36.7 C658.6,37.7 658.9,38.9 659.3,40.0 C659.7,41.0 660.1,41.9 660.4,43.0 C660.8,44.0 661.2,45.5 661.4,46.5 C661.6,47.5 661.7,48.2 661.8,49.1 C661.9,50.0 662.0,50.9 662.1,51.8 C662.2,52.8 662.3,53.8 662.4,54.8 C662.5,55.8 662.6,56.9 662.7,57.9 C662.7,59.0 662.8,60.2 662.9,61.2 C663.0,62.2 663.0,63.1 663.1,64.1 C663.1,65.2 663.2,66.3 663.3,67.4 C663.3,68.4 663.4,69.6 663.4,70.7 C663.4,71.8 663.5,72.9 663.5,73.9 C663.6,75.0 663.7,76.0 663.7,77.0 C663.8,77.9 663.8,78.6 663.9,79.6 C664.0,80.6 664.1,81.8 664.3,82.8 C664.4,83.8 664.5,84.6 664.7,85.4 C664.8,86.2 664.9,86.9 665.1,87.7 C665.2,88.4 665.3,89.1 665.4,90.0 C665.5,90.9 665.6,92.0 665.8,93.0 C665.9,94.0 666.2,94.9 666.2,95.9 C666.3,96.8 666.1,97.8 666.2,98.8 C666.3,99.8 666.8,101.0 666.8,102.1 C666.8,103.1 666.4,104.0 666.3,105.0 C666.2,106.0 666.3,107.1 666.3,108.2 C666.4,109.4 666.4,110.8 666.5,111.9 C666.6,113.0 666.9,113.9 667.1,114.9 C667.2,115.8 667.2,116.5 667.3,117.6 C667.4,118.7 667.7,120.4 667.7,121.6 C667.7,122.8 667.4,123.7 667.4,124.8 C667.3,125.9 667.3,126.9 667.3,128.0 C667.2,129.1 667.1,130.2 667.2,131.3 C667.3,132.4 667.5,133.4 667.7,134.5 C667.8,135.6 667.9,136.8 667.8,137.7 C667.8,138.7 667.5,139.5 667.4,140.5 C667.3,141.4 667.3,142.4 667.2,143.3 C667.1,144.3 666.7,145.3 666.5,146.2 C666.4,147.1 666.4,147.8 666.3,148.7 C666.3,149.5 666.4,150.6 666.5,151.6 C666.5,152.6 666.6,153.6 666.6,154.6 C666.5,155.7 666.4,156.9 666.1,157.9 C665.8,158.9 665.2,159.7 665.0,160.6 C664.8,161.5 665.1,162.4 665.0,163.3 C664.8,164.2 664.3,165.2 664.0,166.2 C663.8,167.2 663.6,168.2 663.4,169.3 C663.2,170.4 662.9,171.7 662.7,172.7 C662.5,173.7 662.6,174.4 662.3,175.4 C662.0,176.3 661.5,177.4 661.1,178.3 C660.6,179.3 660.0,180.1 659.6,181.1 C659.2,182.1 658.9,183.3 658.5,184.3 C658.0,185.3 657.3,186.3 656.8,187.2 C656.3,188.1 656.1,188.8 655.5,189.7 C654.9,190.6 654.1,192.0 653.3,192.9 C652.5,193.7 651.6,194.2 650.8,194.7 C650.0,195.2 649.3,195.3 648.8,196.0 C648.2,196.7 648.0,198.2 647.5,198.9 C646.9,199.7 646.0,199.7 645.4,200.5 C644.7,201.3 644.2,202.7 643.6,203.7 C643.0,204.7 642.5,205.5 641.9,206.4 C641.3,207.3 640.4,208.0 640.1,209.0 C639.8,210.1 640.2,211.5 639.9,212.4 C639.6,213.4 638.6,213.7 638.1,214.7 C637.6,215.6 637.4,217.3 637.0,218.2 C636.7,219.1 636.4,219.3 636.0,220.1 C635.6,220.9 635.0,222.0 634.7,223.0 C634.3,224.0 634.3,225.0 633.9,226.0 C633.5,226.9 632.9,227.8 632.4,228.7 C631.9,229.6 631.4,230.6 631.0,231.5 C630.5,232.5 630.1,233.3 629.8,234.2 C629.5,235.1 629.4,236.1 629.0,237.1 C628.6,238.1 627.7,239.0 627.3,240.1 C626.9,241.1 626.7,242.5 626.4,243.5 C626.0,244.5 625.9,244.9 625.1,245.9 C624.3,247.0 622.4,248.9 621.5,249.6 C620.7,250.3 620.3,250.2 620.1,250.1 C619.9,250.0 620.3,249.8 620.3,248.9 C620.4,248.1 620.3,246.3 620.5,245.2 C620.6,244.0 620.9,243.1 621.3,241.9 C621.6,240.8 622.1,239.3 622.5,238.3 C622.8,237.2 623.0,236.4 623.3,235.6 C623.6,234.8 623.9,234.1 624.1,233.4 C624.4,232.6 624.7,232.1 625.0,231.2 C625.2,230.2 625.4,228.8 625.7,227.8 C626.0,226.9 626.6,226.5 626.8,225.5 C627.1,224.6 627.1,223.3 627.4,222.3 C627.7,221.3 628.1,220.5 628.6,219.5 C629.1,218.5 629.9,217.4 630.3,216.4 C630.7,215.4 630.9,214.5 631.1,213.6 C631.3,212.6 631.1,211.8 631.6,210.8 C632.1,209.8 633.5,208.7 634.1,207.7 C634.7,206.7 634.8,205.4 635.3,204.5 C635.8,203.6 636.3,203.0 636.8,202.1 C637.4,201.3 638.0,200.3 638.4,199.1 C638.8,198.0 638.8,196.6 639.3,195.5 C639.8,194.4 641.1,193.6 641.6,192.6 C642.1,191.7 641.9,190.8 642.3,189.8 C642.7,188.9 643.8,187.8 644.1,187.0 C644.4,186.1 643.9,185.5 644.1,184.8 C644.3,184.1 644.9,183.5 645.3,182.7 C645.8,181.9 646.3,180.7 646.8,179.9 C647.4,179.1 648.0,178.7 648.5,178.1 C648.9,177.5 649.0,177.2 649.4,176.4 C649.9,175.5 650.7,174.0 651.2,173.0 C651.8,172.1 652.3,171.4 652.7,170.6 C653.2,169.8 653.5,169.1 654.0,168.4 C654.6,167.6 655.6,166.8 656.0,166.1 C656.5,165.4 656.5,165.1 656.9,164.3 C657.3,163.4 658.0,161.9 658.5,160.9 C659.1,160.0 659.8,159.4 660.3,158.6 C660.8,157.9 661.0,157.1 661.6,156.2 C662.2,155.4 663.4,154.4 663.9,153.5 C664.4,152.6 664.1,151.9 664.5,151.0 C664.8,150.2 665.5,149.2 666.0,148.5 C666.6,147.7 667.2,147.1 667.7,146.4 C668.2,145.8 668.3,145.5 668.9,144.5 C669.5,143.6 670.4,141.9 671.2,140.9 C672.0,139.9 673.1,139.3 673.7,138.6 C674.3,138.0 674.7,137.3 674.9,137.0" stroke="#b73779" stroke-width="3" stroke-linecap="square"/>
<path class="c" clip-path="url(#cp2)" d="M290.8,384.0 C290.9,384.7 291.4,387.0 291.6,388.0 C291.8,389.0 291.9,389.3 292.1,390.1 C292.2,391.0 292.5,391.9 292.7,392.8 C292.9,393.8 293.1,394.8 293.3,395.9 C293.6,396.9 293.8,398.0 294.0,399.0 C294.2,400.0 294.4,401.0 294.5,402.0 C294.6,403.0 294.8,403.9 294.9,404.9 C295.0,405.9 295.1,406.8 295.1,407.8 C295.2,408.8 295.3,409.8 295.4,410.8 C295.4,411.8 295.5,412.8 295.6,413.7 C295.7,414.7 295.9,415.7 296.0,416.7 C296.1,417.7 296.3,418.7 296.5,419.6 C296.7,420.6 296.9,421.6 297.1,422.6 C297.3,423.6 297.5,424.5 297.7,425.5 C297.9,426.5 298.1,427.5 298.3,428.5 C298.5,429.4 298.7,430.4 298.9,431.4 C299.1,432.4 299.2,433.3 299.4,434.3 C299.6,435.3 299.8,436.2 299.9,437.2 C300.1,438.2 300.3,439.1 300.4,440.1 C300.6,441.1 300.7,442.1 300.8,443.1 C300.9,444.1 301.0,445.1 301.1,446.1 C301.2,447.1 301.2,448.2 301.2,449.3 C301.2,450.4 301.1,451.5 301.1,452.6 C301.1,453.7 301.0,454.9 301.0,456.0 C301.0,457.1 300.9,458.2 300.9,459.2 C301.0,460.3 301.0,461.3 301.1,462.3 C301.2,463.3 301.4,464.2 301.5,465.1 C301.7,466.0 301.9,466.9 302.2,467.8 C302.4,468.7 302.6,469.5 302.9,470.4 C303.1,471.2 303.3,472.1 303.6,472.9 C303.8,473.8 303.9,474.5 304.1,475.5 C304.3,476.5 304.5,477.7 304.6,478.8 C304.8,479.9 305.0,481.0 305.1,482.1 C305.2,483.2 305.3,484.4 305.3,485.4 C305.4,486.5 305.4,487.6 305.4,488.7 C305.3,489.7 305.3,490.7 305.1,491.7 C305.0,492.7 304.8,493.6 304.6,494.6 C304.4,495.6 304.1,496.4 304.0,497.5 C303.8,498.5 303.8,499.9 303.8,500.8 C303.8,501.8 304.0,502.3 304.1,503.4 C304.2,504.4 304.2,506.0 304.3,507.1 C304.3,508.3 304.2,509.2 304.4,510.2 C304.6,511.3 305.4,512.5 305.5,513.6 C305.7,514.7 305.3,515.8 305.4,516.8 C305.4,517.7 305.8,518.5 305.9,519.5 C306.0,520.5 306.0,521.8 306.0,522.8 C306.0,523.9 305.7,524.8 305.6,525.8 C305.5,526.7 305.6,527.8 305.5,528.8 C305.5,529.7 305.6,530.6 305.4,531.5 C305.3,532.4 304.7,533.3 304.5,534.2 C304.3,535.0 304.6,535.8 304.4,536.6 C304.3,537.5 303.9,538.5 303.7,539.3 C303.4,540.0 303.1,540.2 302.8,541.0 C302.6,541.9 302.5,543.5 302.3,544.5 C302.1,545.5 301.8,546.1 301.7,547.1 C301.5,548.0 301.5,549.2 301.2,550.2 C300.9,551.2 300.1,552.3 299.7,553.2 C299.4,554.1 299.4,554.8 299.1,555.8 C298.7,556.9 298.0,558.6 297.6,559.6 C297.3,560.7 297.4,561.4 297.2,562.4 C296.9,563.3 296.5,564.3 295.9,565.3 C295.3,566.3 294.1,567.6 293.6,568.4 C293.2,569.3 293.7,569.9 293.2,570.7 C292.8,571.5 291.4,572.5 291.0,573.2 C290.5,574.0 290.9,574.3 290.5,575.1 C290.1,575.9 289.2,577.0 288.6,577.9 C288.1,578.8 287.5,579.6 287.0,580.5 C286.4,581.3 285.9,582.3 285.3,583.0 C284.8,583.7 284.3,583.8 283.7,584.8 C283.1,585.7 282.3,587.6 281.7,588.6 C281.1,589.6 280.7,589.9 280.2,590.7 C279.7,591.5 279.2,592.6 278.6,593.4 C278.0,594.2 277.2,594.6 276.6,595.3 C275.9,596.0 275.2,596.6 274.6,597.5 C274.0,598.4 273.6,599.8 272.9,600.8 C272.3,601.7 271.1,602.4 270.6,603.3 C270.1,604.3 270.3,605.6 269.8,606.4 C269.3,607.3 268.3,607.8 267.6,608.6 C267.0,609.3 266.2,610.1 265.8,611.1 C265.4,612.1 265.5,613.6 265.1,614.5 C264.7,615.4 263.8,615.9 263.4,616.7 C262.9,617.5 262.5,618.6 262.2,619.5 C261.9,620.4 261.9,621.1 261.5,622.1 C261.0,623.1 260.1,624.7 259.7,625.8 C259.3,626.9 259.5,628.0 259.2,628.8 C258.9,629.7 258.4,630.2 258.0,631.0 C257.5,631.8 257.0,632.7 256.4,633.4 C255.9,634.2 255.3,634.9 254.7,635.6 C254.2,636.3 253.6,636.9 252.9,637.8 C252.3,638.8 251.4,640.4 250.7,641.3 C250.1,642.1 249.6,642.1 249.0,642.8 C248.4,643.6 248.0,644.7 247.3,645.8 C246.6,646.8 245.6,648.2 244.8,649.1 C243.9,649.9 243.0,650.2 242.2,650.8 C241.3,651.4 240.7,652.0 239.7,652.4 C238.7,652.8 237.1,653.3 236.3,653.2 C235.5,653.1 235.4,652.4 234.9,651.8 C234.5,651.2 233.6,650.7 233.6,649.6 C233.6,648.6 234.4,647.0 234.8,645.6 C235.1,644.3 235.4,642.7 235.7,641.6 C236.0,640.6 236.1,640.2 236.4,639.4 C236.6,638.5 237.0,637.7 237.3,636.7 C237.5,635.8 237.5,634.5 237.7,633.6 C238.0,632.7 238.3,632.1 238.7,631.2 C239.1,630.2 239.7,628.9 240.1,628.1 C240.6,627.3 240.8,627.2 241.2,626.3 C241.6,625.4 242.2,623.5 242.5,622.5 C242.9,621.5 243.0,621.2 243.3,620.4 C243.7,619.6 244.1,618.5 244.6,617.7 C245.1,616.8 245.8,616.0 246.1,615.1 C246.5,614.2 246.5,613.2 246.9,612.2 C247.3,611.2 248.0,610.2 248.5,609.2 C249.0,608.1 249.4,606.9 249.8,605.9 C250.3,604.8 250.7,604.1 251.2,603.1 C251.7,602.1 252.1,600.7 252.8,599.7 C253.4,598.7 254.5,598.1 255.1,597.3 C255.7,596.5 255.9,595.7 256.3,594.9 C256.7,594.0 256.9,593.2 257.4,592.3 C258.0,591.4 258.8,590.5 259.4,589.6 C259.9,588.7 260.4,587.8 260.8,587.0 C261.2,586.2 261.7,585.7 261.9,584.9 C262.2,584.1 262.0,583.1 262.5,582.3 C263.0,581.6 264.1,581.0 264.7,580.3 C265.3,579.6 265.4,578.7 265.9,577.9 C266.4,577.1 267.0,576.4 267.7,575.5 C268.3,574.5 269.0,573.2 269.6,572.3 C270.2,571.3 270.7,570.8 271.2,569.9 C271.8,569.0 272.3,567.9 272.9,567.0 C273.4,566.1 274.0,565.0 274.5,564.4 C275.0,563.7 275.4,563.8 276.1,563.0 C276.8,562.3 278.0,560.8 278.7,559.8 C279.3,558.8 279.8,557.9 280.1,557.0 C280.4,556.2 280.2,555.1 280.7,554.5 C281.3,553.8 282.6,553.9 283.2,553.3 C283.9,552.6 284.3,551.3 284.9,550.5 C285.5,549.8 286.0,549.3 286.6,548.7 C287.2,548.1 287.8,547.6 288.6,547.1 C289.4,546.5 290.4,545.9 291.3,545.4 C292.1,544.9 292.7,544.4 293.6,544.1 C294.4,543.7 295.5,543.8 296.3,543.5 C297.1,543.2 297.7,542.9 298.4,542.4 C299.2,541.8 299.9,540.7 300.7,540.0 C301.5,539.3 302.4,538.6 303.3,538.0 C304.2,537.5 305.2,537.1 306.2,536.4 C307.2,535.8 308.4,534.8 309.1,534.1 C309.9,533.5 310.0,533.1 310.7,532.6 C311.4,532.0 312.6,531.1 313.5,530.6 C314.3,530.1 315.3,530.0 316.0,529.5 C316.7,528.9 316.9,528.0 317.7,527.3 C318.5,526.5 319.9,525.5 320.8,524.9 C321.7,524.4 322.3,524.2 323.0,523.8 C323.7,523.4 324.1,523.2 324.9,522.7 C325.8,522.2 327.0,521.2 327.9,520.6 C328.7,520.1 329.5,520.0 330.3,519.6 C331.0,519.2 331.6,518.9 332.5,518.4 C333.4,517.8 334.7,516.7 335.7,516.2 C336.7,515.7 337.7,515.5 338.4,515.4 C339.2,515.2 339.3,515.4 340.3,515.1 C341.3,514.8 343.5,513.5 344.4,513.5 C345.3,513.4 345.5,514.1 345.7,514.6 C345.8,515.1 345.8,515.7 345.4,516.5 C345.0,517.3 344.1,518.5 343.3,519.5 C342.6,520.5 341.6,521.8 340.9,522.6 C340.2,523.4 339.7,523.9 339.0,524.4 C338.4,524.9 337.8,525.1 337.1,525.5 C336.4,526.0 335.7,526.7 334.9,527.2 C334.1,527.7 333.3,528.1 332.5,528.6 C331.7,529.0 330.9,529.3 330.1,529.9 C329.3,530.4 328.5,531.5 327.7,532.1 C326.9,532.7 326.3,533.1 325.4,533.6 C324.6,534.1 323.3,534.5 322.5,535.1 C321.7,535.8 321.3,537.0 320.6,537.6 C319.9,538.2 319.0,538.0 318.2,538.5 C317.4,539.0 316.5,539.9 315.6,540.5 C314.7,541.1 313.8,541.6 313.0,542.0 C312.2,542.4 311.7,542.6 310.9,543.1 C310.1,543.5 309.3,544.3 308.4,544.8 C307.6,545.4 306.8,545.7 305.9,546.3 C304.9,546.9 303.8,548.0 302.8,548.6 C301.8,549.1 300.9,549.4 300.1,549.7 C299.3,550.0 298.9,550.2 298.0,550.5 C297.1,550.7 295.7,551.3 294.7,551.5 C293.7,551.7 293.1,551.7 292.2,551.8 C291.4,551.9 290.5,551.8 289.5,551.9 C288.5,552.0 287.2,552.5 286.4,552.6 C285.5,552.8 285.1,552.7 284.2,552.9 C283.4,553.1 282.4,553.5 281.3,553.7 C280.1,554.0 278.6,554.1 277.5,554.2 C276.5,554.3 276.1,554.1 275.1,554.3 C274.0,554.4 272.4,554.8 271.4,555.0 C270.3,555.2 269.7,555.3 268.7,555.3 C267.8,555.4 266.5,555.5 265.5,555.5 C264.5,555.4 263.7,555.2 262.9,555.3 C262.1,555.4 261.3,555.9 260.5,556.0 C259.7,556.1 259.3,555.7 258.3,555.9 C257.4,556.0 255.7,556.5 254.7,556.8 C253.6,557.1 253.0,557.5 252.0,557.8 C251.1,558.0 250.1,558.1 249.1,558.2 C248.1,558.2 246.9,558.3 245.9,558.1 C244.9,557.9 243.6,557.4 242.9,557.1 C242.2,556.9 241.6,557.4 241.8,556.8 C242.0,556.1 243.4,553.9 244.2,553.3 C245.0,552.6 246.1,553.0 246.8,552.7 C247.5,552.4 247.7,552.0 248.6,551.7 C249.5,551.4 251.2,551.0 252.2,550.7 C253.2,550.4 253.7,550.2 254.6,550.2 C255.4,550.1 256.2,550.4 257.3,550.4 C258.3,550.4 260.1,550.0 260.9,549.9 C261.7,549.8 261.3,549.9 261.9,549.8 C262.5,549.6 263.7,549.5 264.6,549.2 C265.5,549.0 266.4,548.5 267.3,548.3 C268.1,548.1 268.7,548.2 269.7,548.1 C270.7,548.0 272.3,547.9 273.5,547.7 C274.7,547.4 275.8,546.9 276.9,546.7 C277.9,546.5 278.6,546.6 279.5,546.6 C280.5,546.6 281.7,546.7 282.6,546.7 C283.6,546.7 284.4,546.5 285.3,546.5 C286.2,546.5 287.2,546.6 288.1,546.7 C289.0,546.7 289.8,546.6 290.9,546.7 C291.9,546.7 293.2,546.9 294.3,547.2 C295.4,547.4 296.4,547.6 297.4,547.9 C298.4,548.3 299.3,548.8 300.1,549.1 C301.0,549.4 301.6,549.6 302.5,549.9 C303.3,550.1 304.3,550.4 305.4,550.8 C306.4,551.3 307.7,552.1 308.7,552.5 C309.7,552.9 310.5,553.2 311.5,553.3 C312.5,553.5 313.9,553.1 314.8,553.4 C315.7,553.6 316.2,554.5 317.0,554.9 C317.9,555.3 318.8,555.5 319.9,555.8 C321.1,556.2 322.9,556.6 324.1,557.0 C325.2,557.3 325.7,557.7 326.6,558.0 C327.5,558.4 328.4,558.7 329.4,559.2 C330.4,559.7 331.7,560.5 332.6,561.0 C333.6,561.6 334.8,562.3 335.2,562.5" stroke="#2c115f" stroke-width="3" stroke-linecap="square"/>
<path class="c" clip-path="url(#cp2)" d="M290.8,384.0 C290.9,384.7 291.3,387.0 291.6,388.0 C291.9,389.0 292.1,389.3 292.4,390.1 C292.6,391.0 293.0,391.9 293.4,392.8 C293.7,393.8 294.1,394.8 294.5,395.9 C294.9,396.9 295.3,398.0 295.7,399.0 C296.0,400.0 296.4,401.0 296.7,402.0 C297.0,403.0 297.3,403.9 297.6,404.9 C297.9,405.9 298.2,406.8 298.5,407.8 C298.8,408.8 299.1,409.8 299.4,410.8 C299.7,411.8 299.9,412.8 300.2,413.7 C300.5,414.7 300.8,415.7 301.1,416.7 C301.4,417.7 301.7,418.7 302.0,419.6 C302.3,420.6 302.6,421.6 302.9,422.6 C303.2,423.6 303.4,424.5 303.7,425.5 C304.0,426.5 304.3,427.5 304.6,428.5 C304.9,429.4 305.2,430.4 305.5,431.4 C305.8,432.4 306.1,433.3 306.4,434.3 C306.7,435.3 307.1,436.2 307.4,437.2 C307.7,438.2 308.0,439.1 308.3,440.1 C308.6,441.1 308.9,442.1 309.2,443.1 C309.4,444.1 309.7,445.1 309.9,446.1 C310.1,447.1 310.3,448.2 310.5,449.3 C310.6,450.4 310.8,451.6 310.9,452.7 C311.0,453.8 311.1,455.0 311.3,456.1 C311.4,457.2 311.5,458.3 311.6,459.3 C311.8,460.4 311.9,461.3 312.1,462.3 C312.3,463.3 312.6,464.5 312.8,465.5 C313.1,466.6 313.4,467.5 313.6,468.4 C313.9,469.4 314.2,470.2 314.4,471.2 C314.7,472.1 314.9,473.1 315.1,474.0 C315.3,474.9 315.4,475.9 315.6,476.8 C315.7,477.8 315.8,478.7 315.9,479.6 C316.1,480.6 316.1,481.6 316.2,482.6 C316.3,483.6 316.5,484.8 316.6,485.8 C316.7,486.8 316.9,487.7 317.0,488.7 C317.0,489.6 317.0,490.4 317.1,491.5 C317.2,492.6 317.4,494.0 317.5,495.2 C317.7,496.3 317.9,497.1 318.0,498.3 C318.1,499.4 318.1,501.0 318.2,502.2 C318.3,503.3 318.4,504.2 318.5,505.2 C318.6,506.2 318.8,507.3 318.8,508.3 C318.9,509.4 318.8,510.3 318.8,511.3 C318.8,512.3 318.9,513.4 318.8,514.5 C318.8,515.5 318.5,516.6 318.5,517.7 C318.5,518.7 318.7,519.8 318.8,520.9 C318.9,521.9 319.3,523.0 319.4,524.2 C319.4,525.3 319.3,526.6 319.2,527.7 C319.1,528.8 319.0,529.9 318.9,531.0 C318.7,532.0 318.3,533.1 318.1,534.1 C317.9,535.0 317.8,535.7 317.8,536.8 C317.7,537.9 317.9,539.5 317.7,540.7 C317.5,541.8 316.7,542.9 316.5,543.7 C316.3,544.5 316.6,544.9 316.5,545.8 C316.3,546.6 315.9,548.0 315.7,549.0 C315.4,550.0 315.3,550.8 315.0,551.7 C314.7,552.7 314.0,553.7 313.8,554.7 C313.5,555.7 313.8,556.7 313.6,557.7 C313.4,558.6 313.1,559.6 312.7,560.3 C312.3,561.1 311.8,561.4 311.4,562.3 C311.0,563.2 310.8,564.8 310.3,565.9 C309.9,566.9 309.3,567.4 308.7,568.3 C308.2,569.2 307.8,570.4 307.1,571.1 C306.5,571.9 305.2,572.2 304.8,573.0 C304.3,573.7 305.0,574.8 304.5,575.6 C304.0,576.5 302.4,577.3 301.6,578.1 C300.9,578.9 300.5,579.5 299.9,580.5 C299.3,581.5 298.6,583.3 298.1,584.2 C297.5,585.1 297.1,585.3 296.5,585.9 C296.0,586.5 295.6,587.2 294.9,587.9 C294.2,588.6 293.1,589.4 292.4,590.1 C291.7,590.9 291.4,591.6 290.7,592.4 C290.0,593.2 289.1,594.0 288.3,594.7 C287.5,595.4 286.6,596.0 286.0,596.7 C285.3,597.5 284.9,598.2 284.3,599.0 C283.6,599.8 282.9,600.8 282.1,601.4 C281.4,602.1 280.7,602.4 279.9,602.9 C279.1,603.4 277.9,603.8 277.1,604.4 C276.3,604.9 275.9,605.6 275.2,606.1 C274.5,606.7 273.7,607.2 272.9,607.7 C272.2,608.3 271.4,609.0 270.7,609.6 C270.1,610.1 269.9,610.3 269.1,611.0 C268.3,611.6 266.8,612.7 265.9,613.5 C265.1,614.4 264.5,615.4 263.8,616.0 C263.1,616.7 262.4,616.7 261.7,617.3 C261.1,617.9 260.5,618.7 259.9,619.5 C259.3,620.3 258.8,621.2 258.1,622.2 C257.5,623.1 256.6,624.4 256.1,625.1 C255.6,625.9 255.8,626.2 255.1,626.7 C254.5,627.2 253.1,627.9 252.4,628.2 C251.6,628.6 251.4,628.5 250.7,628.8 C250.0,629.2 249.1,629.7 248.3,630.4 C247.5,631.1 246.7,632.4 245.9,633.0 C245.2,633.6 244.6,633.4 243.9,634.0 C243.2,634.6 242.6,636.0 241.7,636.8 C240.8,637.6 239.6,638.3 238.8,638.9 C237.9,639.6 237.6,640.2 236.8,640.9 C236.0,641.5 234.8,642.2 234.0,642.7 C233.2,643.3 232.7,643.5 231.9,644.0 C231.2,644.5 230.4,645.4 229.6,645.9 C228.8,646.4 227.9,646.7 227.0,647.2 C226.1,647.6 224.9,648.4 224.2,648.8 C223.4,649.2 223.4,649.2 222.5,649.7 C221.7,650.2 220.3,651.2 219.3,651.7 C218.3,652.3 217.6,652.8 216.6,653.3 C215.7,653.7 214.5,654.1 213.5,654.6 C212.6,655.0 212.0,655.2 211.0,655.7 C210.0,656.2 208.6,657.0 207.5,657.4 C206.5,657.7 205.6,657.7 204.6,657.8 C203.6,657.9 202.5,658.1 201.4,658.3 C200.3,658.4 198.9,658.7 198.0,658.6 C197.0,658.5 196.5,658.1 195.6,657.9 C194.7,657.7 193.5,658.0 192.6,657.5 C191.8,657.0 191.2,655.7 190.6,655.0 C190.0,654.2 189.6,653.7 189.0,653.0 C188.5,652.3 187.7,651.7 187.2,650.8 C186.8,649.9 186.6,648.4 186.5,647.4 C186.4,646.3 186.6,645.7 186.8,644.6 C187.0,643.6 187.4,642.2 187.8,641.3 C188.1,640.3 188.3,639.7 188.6,638.8 C188.9,637.9 189.1,636.8 189.4,635.7 C189.7,634.7 190.2,633.4 190.4,632.3 C190.7,631.3 190.8,630.4 191.1,629.5 C191.5,628.6 192.0,627.9 192.3,627.1 C192.7,626.3 192.8,625.7 193.2,624.7 C193.5,623.8 194.0,622.4 194.5,621.5 C195.0,620.5 195.7,620.1 196.1,619.2 C196.6,618.3 196.8,617.1 197.2,616.1 C197.6,615.1 198.0,614.1 198.6,613.3 C199.2,612.5 200.2,612.2 200.9,611.4 C201.7,610.7 202.4,609.5 203.0,608.6 C203.6,607.8 203.8,607.0 204.4,606.1 C205.0,605.2 205.8,604.0 206.4,603.1 C207.0,602.3 207.5,602.1 207.9,601.1 C208.4,600.1 208.5,598.2 209.1,597.2 C209.6,596.2 210.3,595.9 211.0,595.0 C211.7,594.2 212.7,592.9 213.4,592.0 C214.1,591.1 214.5,590.4 215.1,589.6 C215.7,588.8 216.3,587.9 217.0,587.1 C217.6,586.4 218.2,585.7 219.0,585.2 C219.7,584.6 220.8,584.4 221.4,583.8 C222.1,583.2 222.1,582.1 222.7,581.4 C223.3,580.7 224.3,580.3 225.2,579.6 C226.1,578.9 227.0,578.0 227.8,577.2 C228.6,576.3 229.3,575.1 229.9,574.4 C230.5,573.7 230.6,573.7 231.3,573.0 C232.1,572.3 233.5,570.9 234.3,570.2 C235.2,569.5 236.0,569.3 236.6,568.7 C237.1,568.2 237.1,567.6 237.7,567.0 C238.3,566.4 239.5,565.9 240.3,565.3 C241.1,564.6 241.9,563.6 242.6,563.0 C243.3,562.3 243.8,562.0 244.6,561.4 C245.4,560.9 246.9,560.1 247.6,559.6 C248.3,559.2 248.2,559.3 249.0,558.8 C249.7,558.3 251.3,557.6 252.1,556.8 C252.9,556.0 253.2,554.9 253.8,554.2 C254.5,553.5 254.9,553.3 255.8,552.7 C256.6,552.0 258.3,550.8 259.2,550.2 C260.1,549.6 260.3,549.3 261.1,548.9 C261.8,548.5 262.5,548.1 263.4,547.6 C264.4,547.1 265.8,546.2 266.7,545.8 C267.7,545.3 268.5,545.3 269.3,544.9 C270.2,544.5 270.9,543.9 271.7,543.6 C272.5,543.2 273.3,543.3 274.3,543.0 C275.3,542.6 276.5,542.0 277.6,541.6 C278.6,541.2 279.8,541.0 280.8,540.7 C281.8,540.5 282.4,540.3 283.5,540.1 C284.6,539.9 286.1,539.7 287.2,539.4 C288.3,539.1 289.2,538.4 290.0,538.3 C290.9,538.2 291.4,538.8 292.4,538.6 C293.3,538.4 294.7,537.3 295.7,537.1 C296.7,536.9 297.5,537.5 298.5,537.5 C299.5,537.5 300.6,537.2 301.8,537.2 C303.0,537.3 304.4,537.6 305.6,537.9 C306.8,538.2 307.9,538.9 309.0,539.1 C310.1,539.3 311.2,539.0 312.2,539.1 C313.3,539.1 314.2,539.2 315.4,539.4 C316.5,539.6 318.0,540.0 319.0,540.3 C320.0,540.6 320.4,540.9 321.4,541.1 C322.4,541.3 323.9,541.1 324.9,541.4 C325.8,541.6 326.1,542.3 326.9,542.5 C327.8,542.8 328.9,542.8 329.8,543.1 C330.7,543.3 331.3,543.9 332.2,544.2 C333.1,544.5 334.3,544.6 335.2,544.8 C336.1,545.0 336.6,545.3 337.5,545.5 C338.4,545.7 339.7,545.7 340.7,546.0 C341.6,546.3 342.5,547.2 343.2,547.4 C343.9,547.7 344.2,547.7 345.0,547.8 C345.7,547.9 347.0,547.9 348.0,548.2 C348.9,548.5 349.9,549.4 350.8,549.8 C351.7,550.1 352.6,550.0 353.4,550.4 C354.1,550.7 354.6,551.3 355.4,551.8 C356.2,552.3 357.5,552.6 358.3,553.3 C359.2,554.0 359.6,555.2 360.4,555.8 C361.2,556.4 362.2,556.6 363.0,557.1 C363.8,557.5 364.4,558.0 365.1,558.6 C365.9,559.2 366.9,560.1 367.7,560.8 C368.5,561.4 369.4,561.7 369.8,562.4 C370.2,563.2 370.1,564.4 370.2,565.4 C370.2,566.4 370.6,567.4 370.2,568.5 C369.9,569.5 368.9,571.0 368.1,571.6 C367.4,572.2 366.6,571.7 365.6,572.1 C364.6,572.5 363.3,573.4 362.3,573.8 C361.3,574.2 360.9,574.4 359.8,574.5 C358.8,574.5 357.1,574.2 356.0,574.3 C354.9,574.4 354.1,574.8 353.2,575.0 C352.2,575.1 351.3,575.2 350.4,575.3 C349.5,575.3 348.8,575.4 347.7,575.4 C346.6,575.5 345.0,575.8 343.8,575.8 C342.7,575.7 341.9,575.0 340.8,574.9 C339.8,574.8 338.8,575.4 337.6,575.2 C336.4,575.1 334.8,574.4 333.7,573.9 C332.5,573.5 331.4,572.9 330.5,572.7 C329.5,572.5 328.8,572.9 327.9,572.7 C327.0,572.5 326.1,572.0 325.0,571.6 C323.9,571.3 322.3,570.9 321.2,570.5 C320.2,570.1 319.7,569.5 318.8,569.3 C317.9,569.0 316.9,569.1 316.1,569.1 C315.2,569.0 314.6,569.1 313.8,568.7 C313.1,568.4 312.4,567.2 311.6,566.9 C310.8,566.6 310.0,567.3 309.1,567.1 C308.1,566.8 306.9,565.9 305.9,565.5 C305.0,565.2 304.4,565.0 303.4,564.7 C302.4,564.4 301.0,564.0 299.9,563.6 C298.7,563.2 297.5,562.8 296.6,562.5 C295.8,562.2 295.5,562.4 294.6,561.9 C293.8,561.5 292.5,560.2 291.5,559.6 C290.6,559.0 290.0,559.0 289.1,558.4 C288.2,557.8 287.1,556.7 286.3,556.1 C285.5,555.4 285.0,555.2 284.3,554.6 C283.6,554.0 282.8,553.3 282.0,552.4 C281.2,551.5 280.2,550.1 279.5,549.2 C278.8,548.4 278.5,548.0 278.0,547.3 C277.4,546.6 276.7,545.9 276.1,545.1 C275.6,544.2 275.2,543.3 274.8,542.4 C274.4,541.6 274.2,540.8 273.7,540.0 C273.3,539.2 272.6,538.4 272.2,537.5 C271.7,536.6 271.6,535.6 271.1,534.5 C270.6,533.4 269.5,532.1 269.2,531.1 C268.9,530.1 269.4,529.3 269.2,528.4 C269.0,527.5 268.3,526.7 267.8,525.6 C267.2,524.6 266.5,523.1 265.9,522.1 C265.4,521.2 264.9,520.7 264.5,519.9 C264.0,519.0 263.8,518.2 263.3,517.2 C262.9,516.3 262.3,515.4 261.7,514.2 C261.2,513.1 260.5,511.4 260.1,510.3 C259.7,509.3 259.6,509.0 259.4,508.0 C259.2,507.0 258.9,505.4 258.9,504.3 C258.8,503.2 258.8,502.2 259.1,501.2 C259.4,500.3 259.9,499.2 260.6,498.6 C261.2,498.0 261.7,497.5 262.7,497.6 C263.8,497.8 266.1,499.0 266.8,499.3" stroke="#721f81" stroke-width="3" stroke-linecap="square"/>
<path class="c" clip-path="url(#cp2)" d="M290.8,384.0 C290.9,384.7 291.3,387.0 291.6,388.0 C291.9,389.0 292.3,389.4 292.8,390.2 C293.3,391.1 293.8,392.0 294.4,393.0 C295.0,393.9 295.6,395.0 296.3,396.0 C296.9,397.0 297.6,398.2 298.2,399.1 C298.8,400.0 299.3,400.7 299.9,401.5 C300.5,402.4 301.1,403.2 301.8,404.0 C302.4,404.9 303.1,405.7 303.7,406.6 C304.3,407.5 304.9,408.4 305.5,409.3 C306.0,410.3 306.6,411.4 307.0,412.3 C307.4,413.2 307.7,414.1 308.0,415.0 C308.2,416.0 308.5,416.9 308.7,417.9 C308.9,418.9 309.1,420.0 309.3,421.0 C309.5,422.0 309.7,423.1 309.9,424.1 C310.1,425.1 310.3,426.1 310.5,427.1 C310.8,428.1 311.0,428.9 311.4,429.9 C311.8,430.9 312.2,432.0 312.7,433.0 C313.2,434.0 313.7,435.0 314.3,436.0 C314.8,437.0 315.3,437.9 315.9,438.9 C316.4,439.8 316.9,440.7 317.4,441.7 C317.9,442.7 318.4,443.6 318.8,444.6 C319.2,445.6 319.6,446.6 320.0,447.5 C320.4,448.5 320.7,449.5 321.1,450.5 C321.4,451.5 321.7,452.4 322.1,453.4 C322.4,454.4 322.7,455.4 323.0,456.4 C323.3,457.3 323.6,458.3 323.9,459.3 C324.2,460.3 324.5,461.3 324.7,462.2 C325.0,463.2 325.3,464.2 325.5,465.2 C325.8,466.2 326.0,467.1 326.2,468.1 C326.5,469.1 326.7,470.1 326.9,471.1 C327.2,472.0 327.4,473.0 327.6,474.0 C327.8,475.0 328.0,476.0 328.2,477.0 C328.5,478.1 328.7,479.2 328.9,480.2 C329.1,481.2 329.4,482.3 329.6,483.3 C329.7,484.3 329.8,485.1 330.0,486.0 C330.1,486.9 330.4,487.8 330.6,488.7 C330.8,489.6 331.0,490.6 331.2,491.4 C331.4,492.2 331.6,492.5 331.8,493.4 C332.0,494.3 332.2,496.0 332.3,497.0 C332.5,498.0 332.6,498.6 332.7,499.4 C332.8,500.2 332.8,501.0 332.9,501.8 C333.1,502.7 333.4,503.4 333.5,504.4 C333.6,505.3 333.5,506.7 333.6,507.7 C333.7,508.8 334.1,509.5 334.3,510.6 C334.4,511.6 334.6,513.0 334.5,513.9 C334.5,514.9 334.1,515.3 334.1,516.3 C334.0,517.3 334.1,518.8 334.2,520.0 C334.4,521.2 334.7,522.3 334.8,523.4 C335.0,524.4 335.0,525.1 335.1,526.2 C335.1,527.3 335.2,528.7 335.1,529.8 C335.1,530.9 335.0,531.8 334.8,532.9 C334.7,533.9 334.3,535.0 334.1,535.9 C334.0,536.8 334.0,537.5 333.9,538.5 C333.8,539.4 333.8,540.8 333.7,541.8 C333.6,542.8 333.5,543.6 333.3,544.6 C333.1,545.6 332.7,546.7 332.5,547.6 C332.2,548.5 332.1,549.0 331.9,550.1 C331.8,551.1 331.7,552.8 331.5,553.8 C331.3,554.8 330.9,555.0 330.7,556.0 C330.5,557.1 330.7,558.8 330.5,559.9 C330.2,560.9 329.5,561.2 329.2,562.3 C328.8,563.3 328.7,565.2 328.4,566.2 C328.2,567.2 327.8,567.8 327.5,568.5 C327.2,569.3 327.0,569.7 326.5,570.6 C326.1,571.4 325.3,572.5 324.9,573.5 C324.6,574.5 324.5,575.7 324.2,576.6 C323.9,577.6 323.8,578.3 323.3,579.2 C322.9,580.0 322.0,580.9 321.5,581.9 C321.0,582.9 320.5,584.2 320.0,585.2 C319.5,586.1 319.0,586.8 318.6,587.5 C318.1,588.3 317.8,588.8 317.3,589.6 C316.8,590.3 316.2,591.3 315.5,592.3 C314.9,593.2 314.3,594.2 313.7,595.0 C313.1,595.9 312.4,596.6 311.9,597.4 C311.4,598.3 311.2,599.1 310.6,600.0 C310.0,601.0 309.2,602.2 308.5,603.1 C307.8,604.0 307.2,604.5 306.6,605.3 C306.0,606.1 305.5,607.0 304.9,607.7 C304.3,608.3 303.7,608.5 303.0,609.2 C302.4,609.9 301.9,611.2 301.1,611.9 C300.2,612.7 298.8,613.2 297.9,613.9 C297.0,614.7 296.6,615.6 295.9,616.3 C295.2,617.0 294.3,617.4 293.7,618.1 C293.0,618.8 292.7,619.8 292.0,620.5 C291.3,621.2 290.2,621.7 289.4,622.3 C288.6,623.0 288.1,623.7 287.3,624.4 C286.6,625.0 285.8,625.7 285.0,626.3 C284.3,626.8 283.6,627.2 282.9,627.8 C282.1,628.5 281.1,629.4 280.3,630.1 C279.6,630.7 278.9,631.0 278.2,631.6 C277.5,632.1 276.7,632.9 276.0,633.5 C275.4,634.1 275.1,634.5 274.3,635.1 C273.6,635.7 272.4,636.5 271.6,637.0 C270.8,637.5 270.1,637.5 269.3,638.0 C268.6,638.5 268.0,639.5 267.2,640.2 C266.4,640.9 265.4,641.7 264.5,642.2 C263.7,642.8 263.1,643.2 262.2,643.7 C261.3,644.1 259.9,644.5 259.0,645.1 C258.2,645.7 257.8,646.7 257.1,647.4 C256.4,648.0 255.6,648.7 254.8,649.2 C253.9,649.7 253.0,649.9 252.1,650.3 C251.3,650.8 250.6,651.5 249.7,652.2 C248.8,652.8 247.7,653.8 246.8,654.3 C245.8,654.7 244.8,654.7 244.0,655.1 C243.2,655.5 242.5,656.1 241.8,656.6 C241.1,657.1 240.7,657.6 239.9,658.2 C239.0,658.7 237.9,659.3 236.9,659.7 C235.8,660.2 234.7,660.3 233.6,660.9 C232.6,661.4 231.3,662.5 230.4,663.2 C229.5,663.8 229.3,664.5 228.4,664.9 C227.5,665.4 225.8,665.4 224.8,665.8 C223.7,666.1 223.2,666.7 222.3,667.1 C221.3,667.5 220.1,667.8 219.1,668.2 C218.2,668.6 217.5,668.9 216.6,669.3 C215.7,669.6 214.8,669.8 213.8,670.0 C212.9,670.3 211.9,670.7 210.9,670.9 C210.0,671.1 209.1,671.0 208.1,671.3 C207.0,671.6 205.7,672.3 204.6,672.7 C203.6,673.2 202.7,673.7 201.7,674.0 C200.8,674.3 199.8,674.3 198.9,674.3 C198.0,674.3 197.3,674.1 196.2,674.3 C195.1,674.4 193.5,675.4 192.5,675.5 C191.5,675.5 191.0,674.7 190.0,674.6 C189.0,674.5 187.6,674.8 186.5,675.0 C185.4,675.1 184.6,675.5 183.5,675.6 C182.3,675.6 180.6,675.4 179.5,675.3 C178.4,675.2 177.7,675.0 176.8,674.8 C176.0,674.5 175.5,674.2 174.6,673.9 C173.7,673.6 172.4,673.4 171.4,673.2 C170.5,672.9 169.5,672.4 168.7,672.1 C167.9,671.9 167.2,672.0 166.5,671.5 C165.8,671.0 165.1,669.6 164.5,669.1 C163.9,668.6 163.5,668.7 162.8,668.4 C162.1,668.0 161.1,667.7 160.4,667.0 C159.8,666.3 159.6,665.2 158.9,664.2 C158.3,663.1 157.3,661.6 156.7,660.7 C156.2,659.9 156.0,660.0 155.5,659.2 C155.0,658.3 154.3,656.7 153.8,655.7 C153.4,654.6 153.2,653.6 152.9,652.8 C152.6,652.0 152.1,651.6 152.0,650.7 C151.8,649.8 151.9,648.6 151.8,647.6 C151.6,646.5 151.1,645.5 151.1,644.5 C151.0,643.5 151.5,642.5 151.5,641.5 C151.5,640.4 151.0,639.4 151.0,638.4 C151.0,637.4 151.3,636.4 151.5,635.4 C151.8,634.5 152.2,633.7 152.5,632.8 C152.8,631.8 153.0,630.7 153.2,629.7 C153.5,628.7 153.5,627.8 153.8,626.9 C154.1,625.9 154.6,625.0 154.9,624.0 C155.3,623.0 155.7,621.6 156.0,620.7 C156.2,619.8 156.1,619.3 156.4,618.4 C156.7,617.4 157.3,616.1 157.7,615.1 C158.1,614.2 158.3,613.5 158.8,612.5 C159.2,611.6 159.7,610.2 160.2,609.2 C160.7,608.3 161.2,607.6 161.8,606.8 C162.4,605.9 163.1,605.1 163.6,604.2 C164.2,603.4 164.5,602.6 165.0,601.7 C165.6,600.9 166.2,600.0 166.8,599.1 C167.4,598.3 168.3,597.3 168.8,596.5 C169.4,595.7 169.6,595.1 170.2,594.4 C170.8,593.7 171.7,593.0 172.3,592.3 C172.9,591.5 173.4,590.8 173.9,589.9 C174.5,589.0 174.9,587.8 175.4,586.9 C176.0,586.0 176.6,585.2 177.3,584.4 C177.9,583.6 178.5,582.9 179.2,582.0 C179.9,581.2 180.8,580.1 181.4,579.3 C182.0,578.4 182.1,577.6 182.7,576.9 C183.3,576.2 184.2,575.9 185.0,575.3 C185.9,574.6 186.9,573.8 187.7,573.1 C188.5,572.5 189.3,572.2 189.8,571.6 C190.4,571.0 190.4,570.1 191.1,569.4 C191.7,568.7 193.1,568.0 193.8,567.3 C194.5,566.6 194.9,565.9 195.4,565.1 C196.0,564.4 196.7,563.4 197.3,562.8 C198.0,562.1 198.8,561.9 199.6,561.3 C200.3,560.7 200.9,559.9 201.6,559.1 C202.4,558.3 203.2,557.3 204.0,556.7 C204.8,556.0 205.6,555.8 206.3,555.2 C207.1,554.7 207.7,554.1 208.4,553.4 C209.2,552.8 210.0,551.8 210.8,551.2 C211.7,550.7 212.7,550.4 213.5,549.8 C214.2,549.3 214.7,548.4 215.5,548.0 C216.2,547.5 217.3,547.5 218.1,547.2 C218.9,546.9 219.6,546.3 220.3,545.9 C221.1,545.5 221.6,545.2 222.4,544.7 C223.2,544.3 224.5,543.9 225.3,543.4 C226.2,542.9 226.6,542.3 227.4,541.9 C228.1,541.4 229.1,541.1 229.9,540.6 C230.7,540.1 231.6,539.3 232.3,538.8 C233.0,538.3 233.5,538.0 234.3,537.5 C235.2,537.0 236.3,536.3 237.3,535.9 C238.2,535.4 239.1,535.3 239.9,535.0 C240.8,534.6 241.5,534.0 242.5,533.6 C243.5,533.3 244.9,532.9 246.0,532.7 C247.0,532.5 247.9,532.4 248.8,532.2 C249.7,532.0 250.7,531.6 251.5,531.3 C252.3,531.1 252.9,531.0 253.8,530.7 C254.6,530.4 255.7,529.7 256.7,529.4 C257.6,529.1 258.6,529.0 259.5,528.7 C260.5,528.4 261.5,527.9 262.4,527.6 C263.2,527.3 263.8,527.1 264.7,526.9 C265.5,526.7 266.5,526.5 267.5,526.4 C268.5,526.3 269.8,526.4 270.8,526.2 C271.8,526.1 272.5,525.7 273.5,525.5 C274.5,525.3 275.8,525.1 276.8,525.0 C277.8,524.9 278.5,525.0 279.4,524.8 C280.3,524.7 281.1,524.4 282.2,524.3 C283.2,524.3 284.7,524.6 285.8,524.5 C286.8,524.5 287.5,524.0 288.4,524.1 C289.4,524.1 290.5,524.8 291.4,524.9 C292.3,525.0 292.7,524.4 293.8,524.5 C294.8,524.7 296.4,525.6 297.6,525.9 C298.8,526.2 299.8,526.0 300.7,526.3 C301.6,526.5 302.3,526.9 303.2,527.3 C304.1,527.6 305.1,528.0 306.0,528.4 C306.8,528.8 307.7,529.5 308.5,529.7 C309.4,530.0 310.3,529.8 311.1,530.0 C312.0,530.3 312.8,530.7 313.6,531.1 C314.4,531.4 315.1,531.7 315.9,532.2 C316.8,532.7 318.1,533.6 318.9,534.0 C319.7,534.5 320.0,534.4 320.8,535.0 C321.6,535.5 322.6,536.7 323.7,537.4 C324.7,538.0 326.2,538.2 327.1,538.9 C328.0,539.5 328.5,540.5 329.0,541.1 C329.6,541.7 329.9,541.9 330.5,542.5 C331.2,543.1 331.9,544.0 332.8,544.6 C333.6,545.2 334.8,545.6 335.6,546.1 C336.5,546.7 337.3,547.2 338.1,547.8 C338.9,548.5 339.8,549.1 340.6,549.9 C341.3,550.7 342.0,552.0 342.6,552.8 C343.2,553.5 343.6,553.6 344.2,554.2 C344.7,554.8 345.3,555.7 345.9,556.3 C346.6,557.0 347.6,557.4 348.3,558.1 C349.0,558.9 349.5,560.0 350.1,560.7 C350.7,561.4 351.3,561.6 351.8,562.3 C352.3,563.0 352.7,564.3 353.1,565.1 C353.5,565.9 353.7,566.3 354.2,567.1 C354.7,567.9 355.5,568.9 356.2,569.8 C356.8,570.7 357.5,571.6 358.1,572.5 C358.6,573.4 359.1,574.2 359.7,575.1 C360.2,576.0 360.6,576.8 361.3,577.7 C361.9,578.6 362.9,579.5 363.6,580.4 C364.2,581.4 364.6,582.4 365.0,583.2 C365.4,584.1 365.7,584.5 366.0,585.3 C366.4,586.2 366.6,587.5 367.0,588.3 C367.4,589.1 367.8,589.3 368.3,590.2 C368.8,591.0 369.5,592.4 369.9,593.4 C370.3,594.3 370.4,594.9 370.8,595.9 C371.2,596.9 371.9,598.3 372.1,599.4 C372.2,600.5 371.9,601.7 371.7,602.6 C371.6,603.6 371.4,604.4 371.3,605.2 C371.2,606.1 371.6,606.7 371.3,607.6 C371.1,608.5 370.0,609.8 369.6,610.6 C369.3,611.4 369.9,611.5 369.4,612.4 C369.0,613.3 367.7,614.9 367.0,616.0 C366.2,617.1 365.9,618.3 365.0,618.9 C364.0,619.6 362.3,619.4 361.3,619.7 C360.3,619.9 359.2,620.4 358.8,620.5" stroke="#b73779" stroke-width="3" stroke-linecap="square"/>
<path class="c" clip-path="url(#cp3)" d="M649.7,381.2L651.3,383.8M653.7,387.6L655.3,390.0M658.1,393.8L659.7,396.4M662.0,400.9L663.2,403.7M665.2,408.4L666.4,411.2M668.2,415.5L669.3,418.3M671.3,422.8L672.3,425.6M674.0,430.6L675.0,433.4M676.7,438.3L677.7,441.1M679.6,445.5L680.6,448.3M682.0,453.0L683.1,455.8M685.1,459.6L685.9,462.4M686.7,467.5L687.3,470.5M688.6,475.6L689.4,478.4M691.0,483.6L691.8,486.6M692.7,491.4L693.1,494.4M693.5,499.4L693.7,502.4M694.2,507.1L694.4,510.1M694.6,514.9L694.6,517.9M694.6,522.9L694.6,525.9M694.2,530.8L694.0,533.8M693.5,538.7L692.9,541.7M691.7,546.5L691.1,549.5M690.0,554.5L689.2,557.3M687.5,562.0L686.5,564.8M685.1,569.5L683.7,572.1M680.5,576.2L678.9,578.6M676.2,582.7L674.6,585.3M672.0,589.4L670.2,591.8M666.7,595.5L664.5,597.7M661.1,600.9L658.9,602.9M655.2,606.2L652.8,608.0M648.8,611.1L646.4,612.9M642.3,615.6L639.9,617.4M635.9,620.3L633.3,621.9M628.7,624.2L626.1,625.6M621.9,627.9L619.1,629.1M614.6,630.9L611.8,631.9M607.0,633.6L604.0,634.4M599.2,635.0L596.2,635.4M591.2,636.1L588.2,635.9M583.7,635.0L580.9,634.0M576.2,631.9L574.0,629.9M572.0,626.3L570.8,623.5M569.6,618.7L569.4,615.7M570.2,611.0L570.4,608.0M570.5,603.3L571.1,600.3M572.8,595.6L574.0,592.8M576.7,588.7L578.1,586.1M579.9,581.6L581.5,579.0M584.6,575.4L586.4,573.0M589.7,569.1L591.7,566.9M595.3,563.4L597.5,561.4M601.2,558.3L603.4,556.3M607.1,553.1L609.5,551.1M613.3,548.1L615.7,546.5M620.1,544.0L622.7,542.6M627.3,540.5L630.1,539.3M634.7,537.4L637.5,536.6M642.5,535.3L645.5,534.9M650.0,534.5L653.0,534.7M657.9,535.5L660.9,536.1M665.8,537.6L668.6,538.4M673.2,539.8L675.8,541.2M680.2,544.1L682.6,545.7M686.6,548.3L688.8,550.3M692.1,553.8L694.3,556.0M698.0,559.2L699.6,561.8M701.9,566.6L701.5,569.6M698.6,573.2L696.0,574.8M691.1,575.2L688.1,575.2M683.4,574.2L680.4,573.8M675.5,573.5L672.7,572.5M668.5,569.7L665.9,568.1M661.5,565.7L659.1,564.1M655.3,561.1L653.1,559.1M649.2,555.8L647.6,553.4M646.1,548.7L645.1,545.9M643.7,541.0L643.1,538.0M642.2,533.2L642.2,530.2M642.0,525.0L643.8,522.6M646.9,523.8L649.9,523.8" stroke="#e45a31" stroke-width="3"/>
<path class="c" clip-path="url(#cp3)" d="M649.7,381.2L651.3,383.8M653.7,387.6L655.3,390.0M658.2,393.8L659.6,396.4M661.7,401.1L662.9,403.8M665.0,408.5L666.1,411.3M668.0,415.6L669.2,418.4M671.2,422.8L672.4,425.6M674.3,430.5L675.4,433.3M677.2,438.0L678.3,440.8M680.2,445.1L681.3,447.9M682.7,452.7L683.9,455.4M686.3,459.4L687.3,462.2M688.0,467.4L688.6,470.4M690.1,475.1L690.9,477.9M692.2,481.8L693.0,484.6M694.5,489.5L695.1,492.5M696.1,497.3L696.5,500.3M697.2,505.2L697.4,508.2M697.7,513.2L697.7,516.2M697.7,521.1L697.7,524.1M697.7,529.0L697.7,532.0M697.8,537.0L697.6,540.0M696.9,544.9L696.3,547.9M694.6,553.0L694.0,556.0M693.3,560.5L692.5,563.5M691.2,567.9L690.2,570.7M688.0,575.3L686.8,578.1M684.8,582.7L683.4,585.3M680.7,589.8L679.3,592.4M677.8,596.3L676.4,598.9M673.3,603.4L671.3,605.6M667.5,608.9L665.5,611.1M662.6,614.8L660.8,617.2M658.0,621.2L656.0,623.4M652.1,627.0L649.9,629.0M646.2,632.2L643.8,634.0M639.7,636.5L637.3,638.3M633.4,641.1L631.0,642.9M627.3,646.0L624.7,647.6M620.1,649.9L617.5,651.3M613.3,653.8L610.7,655.2M606.1,657.6L603.5,659.0M599.3,661.4L596.5,662.4M591.7,663.8L588.7,664.2M583.8,664.5L580.8,664.5M576.1,664.5L573.1,664.5M568.3,664.9L565.5,664.1M561.5,661.3L558.9,659.7M555.2,657.4L553.2,655.2M551.3,650.8L550.3,648.0M549.4,643.2L549.4,640.2M550.1,635.8L550.5,632.8M551.3,627.8L551.7,624.8M551.9,620.3L552.7,617.5M554.8,613.2L556.0,610.4M557.6,605.8L559.0,603.2M561.5,598.9L563.1,596.3M565.7,592.3L567.3,589.9M570.2,585.7L572.0,583.3M574.9,579.5L576.7,577.1M579.7,573.2L581.7,570.8M584.8,567.2L586.8,565.0M590.6,561.5L592.8,559.5M596.4,556.4L598.8,554.6M602.5,551.5L604.9,549.9M609.2,547.5L611.8,545.9M615.7,542.7L618.3,541.1M622.6,539.1L625.4,537.9M630.1,536.1L633.1,535.3M637.9,534.7L640.9,534.3M645.7,533.6L648.7,533.2M653.6,532.0L656.6,532.2M661.1,533.7L663.9,534.5M668.7,536.1L671.5,537.1M676.3,538.6L679.1,539.8M683.5,542.1L686.1,543.7M689.8,547.0L692.2,548.8M696.1,551.8L698.5,553.6M702.5,556.1L704.7,558.1M708.2,562.0L709.8,564.6M711.2,568.9L712.2,571.7" stroke="#57106e" stroke-width="3"/>
<path class="c" clip-path="url(#cp3)" d="M649.7,381.2L651.3,383.8M653.7,387.6L655.3,390.0M658.1,393.8L659.7,396.4M661.9,401.0L663.3,403.6M665.4,408.3L666.6,411.1M668.6,415.3L669.8,418.1M672.0,422.4L673.2,425.2M675.2,430.0L676.4,432.8M678.4,437.4L679.6,440.2M681.8,444.3L683.0,447.1M684.7,451.7L686.1,454.3M689.2,458.9L690.4,461.7M691.9,466.7L692.7,469.5M694.1,474.4L695.1,477.2M696.9,481.7L697.9,484.5M699.7,488.9L700.7,491.7M702.0,496.5L702.8,499.3M704.0,504.2L704.6,507.2M705.3,512.0L705.7,515.0M706.3,519.9L706.7,522.9M707.4,527.9L707.8,530.9M708.5,535.8L708.9,538.8M709.7,543.6L709.9,546.6M709.6,551.5L709.4,554.5M709.1,559.3L708.9,562.3M708.6,567.2L708.2,570.2M707.5,575.2L707.1,578.2M706.3,582.9L705.9,585.9M705.0,590.7L704.4,593.7M703.4,598.5L702.6,601.5M701.4,605.9L700.6,608.9M699.6,613.7L698.8,616.7M697.4,621.6L696.4,624.4M694.8,629.2L693.8,632.0M691.9,636.5L690.9,639.3M689.2,643.9L688.2,646.7M686.3,651.5L685.3,654.3M683.6,658.8L682.6,661.6M680.8,666.2L679.6,669.0M677.5,673.3L676.3,676.1M674.6,680.4L673.4,683.2M670.9,687.9L669.5,690.5M666.9,695.0L665.5,697.6M663.4,702.3L662.2,705.1M660.1,709.6L658.9,712.4M656.7,716.8L655.5,719.6M653.4,723.9L652.2,726.7M650.2,730.7L648.8,733.3M646.4,738.1L645.0,740.7M642.6,744.7L641.2,747.3M638.6,752.1L637.2,754.7M634.7,759.2L633.1,761.8M630.9,765.5L629.3,768.1M627.8,770.7L626.2,773.3" stroke="#000004" stroke-width="3"/>
<path class="tk" d="M135.69,767.8 V773.8"/>
<path class="tk" d="M187.57,767.8 V773.8"/>
<path class="tk" d="M239.46,767.8 V773.8"/>
<path class="tk" d="M291.34,767.8 V773.8"/>
<path class="tk" d="M343.23,767.8 V773.8"/>
<path class="tk" d="M395.11,767.8 V773.8"/>
<path class="tk" d="M498.86,767.8 V773.8"/>
<path class="tk" d="M550.71,767.8 V773.8"/>
<path class="tk" d="M602.57,767.8 V773.8"/>
<path class="tk" d="M654.43,767.8 V773.8"/>
<path class="tk" d="M706.29,767.8 V773.8"/>
<path class="tk" d="M758.14,767.8 V773.8"/>
<path class="tk" d="M83.8,61.11 H77.8"/>
<path class="tk" d="M447.0,61.11 H441.0"/>
<path class="tk" d="M83.8,115.43 H77.8"/>
<path class="tk" d="M447.0,115.43 H441.0"/>
<path class="tk" d="M83.8,169.74 H77.8"/>
<path class="tk" d="M447.0,169.74 H441.0"/>
<path class="tk" d="M83.8,224.06 H77.8"/>
<path class="tk" d="M447.0,224.06 H441.0"/>
<path class="tk" d="M83.8,278.37 H77.8"/>
<path class="tk" d="M447.0,278.37 H441.0"/>
<path class="tk" d="M83.8,332.69 H77.8"/>
<path class="tk" d="M447.0,332.69 H441.0"/>
<path class="tk" d="M83.8,441.40 H77.8"/>
<path class="tk" d="M447.0,441.40 H441.0"/>
<path class="tk" d="M83.8,495.80 H77.8"/>
<path class="tk" d="M447.0,495.80 H441.0"/>
<path class="tk" d="M83.8,550.20 H77.8"/>
<path class="tk" d="M447.0,550.20 H441.0"/>
<path class="tk" d="M83.8,604.60 H77.8"/>
<path class="tk" d="M447.0,604.60 H441.0"/>
<path class="tk" d="M83.8,659.00 H77.8"/>
<path class="tk" d="M447.0,659.00 H441.0"/>
<path class="tk" d="M83.8,713.40 H77.8"/>
<path class="tk" d="M447.0,713.40 H441.0"/>
<rect class="sp" x="83.8" y="6.8" width="363.2" height="380.2"/>
<rect class="sp" x="447.0" y="6.8" width="363.0" height="380.2"/>
<rect class="sp" x="83.8" y="387.0" width="363.2" height="380.79999999999995"/>
<rect class="sp" x="447.0" y="387.0" width="363.0" height="380.79999999999995"/>
<rect class="lg" x="84.7" y="7.7" width="170.89999999999998" height="131.5" rx="2.8" ry="2.8"/>
<path d="M89.9,20.0 h27.8" stroke="#feb078" stroke-width="4" stroke-linecap="square" fill="none"/>
<text x="130.0" y="23.8">R=1:20, Θ = 20<tspan dx="1.75" dy="-2.7" font-size="11px">°</tspan></text>
<path d="M90.30000000000001,42.3 h27.8" stroke="#feb078" stroke-width="3" stroke-dasharray="3 4.949999999999999" fill="none"/>
<text x="129.1" y="47.2">R=1:20, gaseous</text>
<path d="M89.9,63.0 h27.8" stroke="#f1605d" stroke-width="4" stroke-linecap="square" fill="none"/>
<text x="130.0" y="67.9">R=1:10</text>
<path d="M90.30000000000001,84.2 h27.8" stroke="#f1605d" stroke-width="3" stroke-dasharray="3 4.949999999999999" fill="none"/>
<text x="129.1" y="89.1">R=1:10, gaseous</text>
<path d="M89.9,105.2 h27.8" stroke="#b73779" stroke-width="4" stroke-linecap="square" fill="none"/>
<text x="130.0" y="110.1">R=1:5</text>
<path d="M89.9,126.2 h27.8" stroke="#721f81" stroke-width="4" stroke-linecap="square" fill="none"/>
<text x="130.0" y="131.1">R=1:2</text>
<rect class="lg" x="447.9" y="7.7" width="163.5" height="69.39999999999999" rx="2.8" ry="2.8"/>
<path d="M453.7,20.5 h27.8" stroke="#feb078" stroke-width="3" stroke-linecap="square" fill="none"/>
<text x="492.2" y="25.3">R=1:20, <tspan dx="1.2" font-style="italic">θ</tspan><tspan dx="1.4">=</tspan><tspan dx="2.8">10</tspan><tspan dx="2.85" dy="-2.7" font-size="11px">°</tspan></text>
<path d="M453.7,42.3 h27.8" stroke="#f1605d" stroke-width="3" stroke-linecap="square" fill="none"/>
<text x="492.2" y="47.1">R=1:10</text>
<path d="M453.7,63.4 h27.8" stroke="#b73779" stroke-width="3" stroke-linecap="square" fill="none"/>
<text x="492.2" y="68.2">R=1:5</text>
<rect class="lg" x="84.7" y="387.9" width="167.60000000000002" height="71.0" rx="2.8" ry="2.8"/>
<path d="M90.7,401.4 h27.8" stroke="#2c115f" stroke-width="3" stroke-linecap="square" fill="none"/>
<text x="130.3" y="405.9"><tspan font-style="italic">θ</tspan><tspan dx="1.4">=</tspan><tspan dx="2.8">10</tspan><tspan dx="2.85" dy="-2.7" font-size="11px">°</tspan><tspan dy="2.7" dx="3.0">,</tspan><tspan dx="3.8">R=1:10</tspan></text>
<path d="M90.7,424.0 h27.8" stroke="#721f81" stroke-width="3" stroke-linecap="square" fill="none"/>
<text x="130.3" y="428.5"><tspan font-style="italic">θ</tspan><tspan dx="1.4">=</tspan><tspan dx="2.8">20</tspan><tspan dx="2.85" dy="-2.7" font-size="11px">°</tspan></text>
<path d="M90.7,446.1 h27.8" stroke="#b73779" stroke-width="3" stroke-linecap="square" fill="none"/>
<text x="130.3" y="450.6"><tspan font-style="italic">θ</tspan><tspan dx="1.4">=</tspan><tspan dx="2.8">30</tspan><tspan dx="2.85" dy="-2.7" font-size="11px">°</tspan></text>
<rect class="lg" x="447.9" y="387.9" width="152.30000000000007" height="65.20000000000005" rx="2.8" ry="2.8"/>
<path d="M453.5,399.6 h27.8" stroke="#e45a31" stroke-width="3" stroke-dasharray="3 4.949999999999999" fill="none"/>
<text x="492.2" y="404.6">v = 1380 km/s</text>
<path d="M453.5,420.6 h27.8" stroke="#57106e" stroke-width="3" stroke-dasharray="3 4.949999999999999" fill="none"/>
<text x="492.2" y="425.6">v = 1500 km/s</text>
<path d="M453.5,441.6 h27.8" stroke="#000004" stroke-width="3" stroke-dasharray="3 4.949999999999999" fill="none"/>
<text x="492.2" y="446.6">v = 2000 km/s</text>
<text class="t" transform="translate(135.99,802.4) rotate(-45)" text-anchor="middle" y="5">−3000</text>
<text class="t" transform="translate(187.87,802.4) rotate(-45)" text-anchor="middle" y="5">−2000</text>
<text class="t" transform="translate(239.76,802.4) rotate(-45)" text-anchor="middle" y="5">−1000</text>
<text class="t" transform="translate(290.64,786.7) rotate(-45)" text-anchor="middle" y="5">0</text>
<text class="t" transform="translate(342.73,798.3) rotate(-45)" text-anchor="middle" y="5">1000</text>
<text class="t" transform="translate(394.61,798.3) rotate(-45)" text-anchor="middle" y="5">2000</text>
<text class="t" x="266.2" y="841.5" text-anchor="middle">x [kpc]</text>
<text class="t" transform="translate(499.16,802.4) rotate(-45)" text-anchor="middle" y="5">−3000</text>
<text class="t" transform="translate(551.01,802.4) rotate(-45)" text-anchor="middle" y="5">−2000</text>
<text class="t" transform="translate(602.87,802.4) rotate(-45)" text-anchor="middle" y="5">−1000</text>
<text class="t" transform="translate(653.73,786.7) rotate(-45)" text-anchor="middle" y="5">0</text>
<text class="t" transform="translate(705.79,798.3) rotate(-45)" text-anchor="middle" y="5">1000</text>
<text class="t" transform="translate(757.64,798.3) rotate(-45)" text-anchor="middle" y="5">2000</text>
<text class="t" x="629.3" y="841.5" text-anchor="middle">x [kpc]</text>
<text class="t" transform="translate(54.2,76.31) rotate(-45)" text-anchor="middle" y="5">2000</text>
<text class="t" transform="translate(54.2,130.63) rotate(-45)" text-anchor="middle" y="5">1000</text>
<text class="t" transform="translate(65.9,173.54) rotate(-45)" text-anchor="middle" y="5">0</text>
<text class="t" transform="translate(49.7,243.46) rotate(-45)" text-anchor="middle" y="5">−1000</text>
<text class="t" transform="translate(49.7,297.77) rotate(-45)" text-anchor="middle" y="5">−2000</text>
<text class="t" transform="translate(49.7,352.09) rotate(-45)" text-anchor="middle" y="5">−3000</text>
<text class="t" transform="translate(18.5,197.6) rotate(-90)" text-anchor="middle">y [kpc]</text>
<text class="t" transform="translate(54.2,456.60) rotate(-45)" text-anchor="middle" y="5">2000</text>
<text class="t" transform="translate(54.2,511.00) rotate(-45)" text-anchor="middle" y="5">1000</text>
<text class="t" transform="translate(65.9,554.00) rotate(-45)" text-anchor="middle" y="5">0</text>
<text class="t" transform="translate(49.7,624.00) rotate(-45)" text-anchor="middle" y="5">−1000</text>
<text class="t" transform="translate(49.7,678.40) rotate(-45)" text-anchor="middle" y="5">−2000</text>
<text class="t" transform="translate(49.7,732.80) rotate(-45)" text-anchor="middle" y="5">−3000</text>
<text class="t" transform="translate(18.5,578.7) rotate(-90)" text-anchor="middle">y [kpc]</text>
</svg></body></html>
